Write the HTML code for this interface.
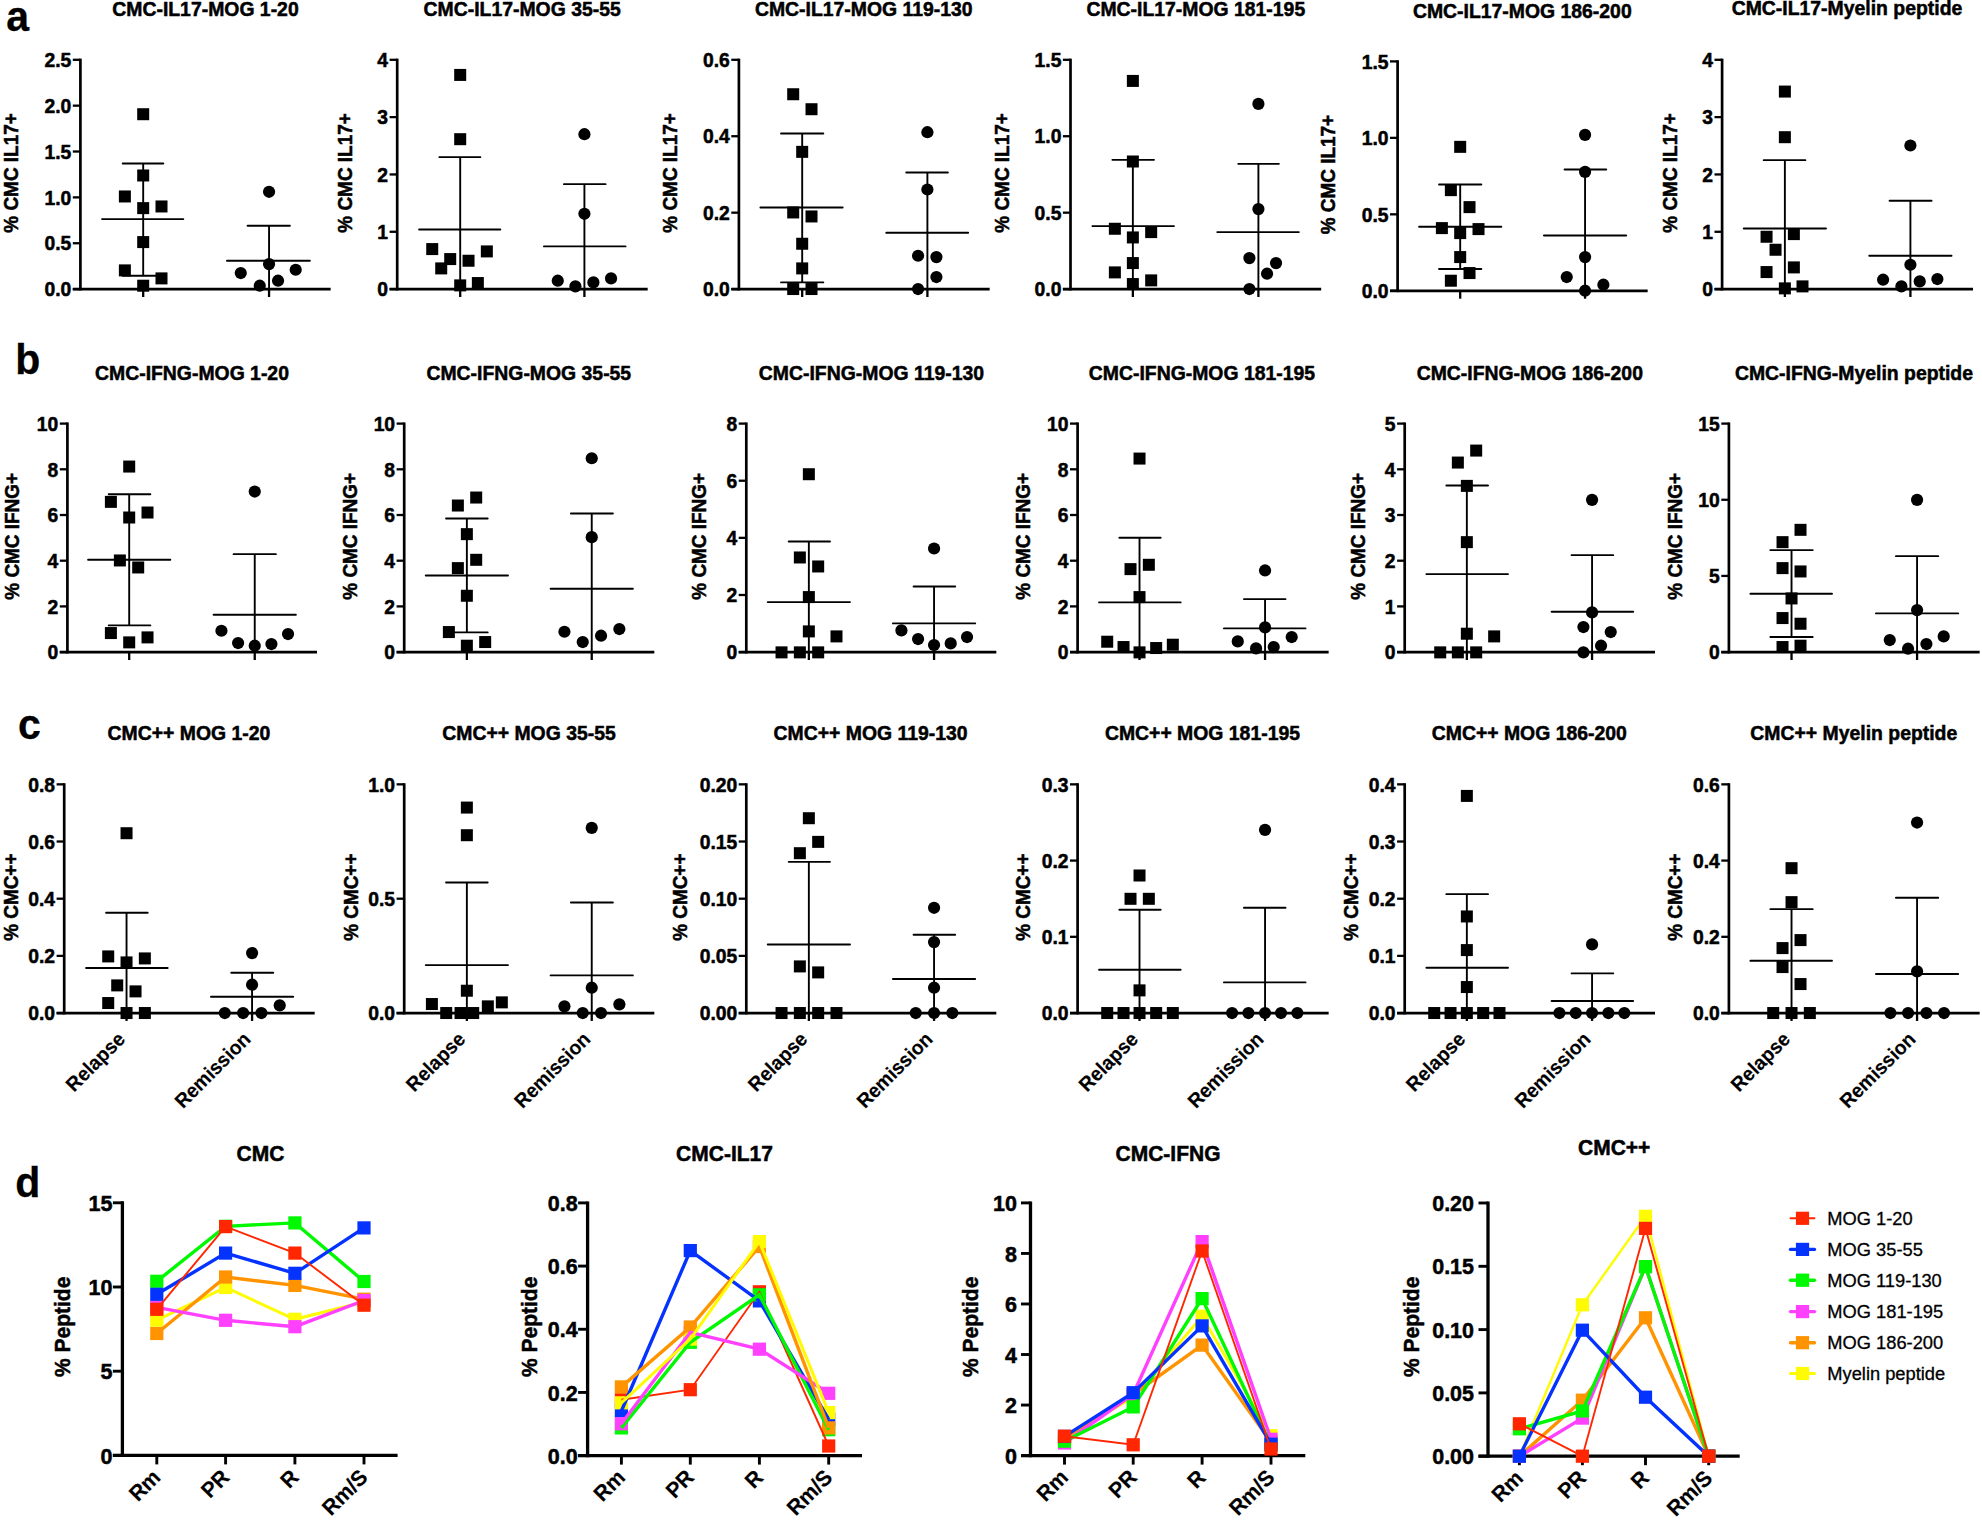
<!DOCTYPE html>
<html lang="en"><head><meta charset="utf-8"><title>Figure</title>
<style>html,body{margin:0;padding:0;background:#fff}svg{display:block}text{font-family:"Liberation Sans", sans-serif}</style>
</head><body>
<svg width="1982" height="1520" viewBox="0 0 1982 1520" font-family='"Liberation Sans", sans-serif'>
<rect width="1982" height="1520" fill="#fff"/>
<text transform="translate(205.46 16.05) scale(1 1.035)" font-size="19.4" font-weight="bold" text-anchor="middle" fill="#000" stroke="#000" stroke-width="0.5">CMC-IL17-MOG 1-20</text>
<text transform="translate(18.31 172.95) rotate(-90) scale(1 1.035)" font-size="18.95" font-weight="bold" text-anchor="middle" fill="#000" stroke="#000" stroke-width="0.5">% CMC IL17+</text>
<line x1="72.8" y1="59.8" x2="80.4" y2="59.8" stroke="#000" stroke-width="2.3" stroke-linecap="butt"/>
<text transform="translate(71.3 67) scale(1 1.035)" font-size="19.3" font-weight="bold" text-anchor="end" fill="#000" stroke="#000" stroke-width="0.5">2.5</text>
<line x1="72.8" y1="105.66" x2="80.4" y2="105.66" stroke="#000" stroke-width="2.3" stroke-linecap="butt"/>
<text transform="translate(71.3 112.86) scale(1 1.035)" font-size="19.3" font-weight="bold" text-anchor="end" fill="#000" stroke="#000" stroke-width="0.5">2.0</text>
<line x1="72.8" y1="151.52" x2="80.4" y2="151.52" stroke="#000" stroke-width="2.3" stroke-linecap="butt"/>
<text transform="translate(71.3 158.72) scale(1 1.035)" font-size="19.3" font-weight="bold" text-anchor="end" fill="#000" stroke="#000" stroke-width="0.5">1.5</text>
<line x1="72.8" y1="197.38" x2="80.4" y2="197.38" stroke="#000" stroke-width="2.3" stroke-linecap="butt"/>
<text transform="translate(71.3 204.58) scale(1 1.035)" font-size="19.3" font-weight="bold" text-anchor="end" fill="#000" stroke="#000" stroke-width="0.5">1.0</text>
<line x1="72.8" y1="243.24" x2="80.4" y2="243.24" stroke="#000" stroke-width="2.3" stroke-linecap="butt"/>
<text transform="translate(71.3 250.44) scale(1 1.035)" font-size="19.3" font-weight="bold" text-anchor="end" fill="#000" stroke="#000" stroke-width="0.5">0.5</text>
<line x1="72.8" y1="289.1" x2="80.4" y2="289.1" stroke="#000" stroke-width="2.3" stroke-linecap="butt"/>
<text transform="translate(71.3 296.3) scale(1 1.035)" font-size="19.3" font-weight="bold" text-anchor="end" fill="#000" stroke="#000" stroke-width="0.5">0.0</text>
<line x1="80.4" y1="58.65" x2="80.4" y2="290.45" stroke="#000" stroke-width="2.7" stroke-linecap="butt"/>
<line x1="72.8" y1="289.1" x2="330.67" y2="289.1" stroke="#000" stroke-width="2.7" stroke-linecap="butt"/>
<line x1="143.19" y1="289.1" x2="143.19" y2="297" stroke="#000" stroke-width="2.3" stroke-linecap="butt"/>
<line x1="269.06" y1="289.1" x2="269.06" y2="297" stroke="#000" stroke-width="2.3" stroke-linecap="butt"/>
<line x1="102.06" y1="219.11" x2="183.31" y2="219.11" stroke="#000" stroke-width="1.9" stroke-linecap="round"/>
<line x1="122.71" y1="163.5" x2="163.33" y2="163.5" stroke="#000" stroke-width="1.9" stroke-linecap="round"/>
<line x1="122.71" y1="275.72" x2="163.33" y2="275.72" stroke="#000" stroke-width="1.9" stroke-linecap="round"/>
<line x1="143.19" y1="163.5" x2="143.19" y2="275.72" stroke="#000" stroke-width="1.9" stroke-linecap="butt"/>
<line x1="226.94" y1="260.74" x2="309.85" y2="260.74" stroke="#000" stroke-width="1.9" stroke-linecap="round"/>
<line x1="247.58" y1="225.77" x2="289.87" y2="225.77" stroke="#000" stroke-width="1.9" stroke-linecap="round"/>
<line x1="269.06" y1="225.77" x2="269.06" y2="289.1" stroke="#000" stroke-width="1.9" stroke-linecap="butt"/>
<rect x="137.19" y="108.22" width="12" height="12" fill="#000"/>
<rect x="137.19" y="169.49" width="12" height="12" fill="#000"/>
<rect x="118.87" y="190.47" width="12" height="12" fill="#000"/>
<rect x="137.19" y="202.12" width="12" height="12" fill="#000"/>
<rect x="155.5" y="200.46" width="12" height="12" fill="#000"/>
<rect x="137.19" y="236.09" width="12" height="12" fill="#000"/>
<rect x="118.87" y="264.39" width="12" height="12" fill="#000"/>
<rect x="155.5" y="272.39" width="12" height="12" fill="#000"/>
<rect x="137.19" y="279.71" width="12" height="12" fill="#000"/>
<circle cx="269.06" cy="191.81" r="6.1" fill="#000"/>
<circle cx="269.06" cy="264.07" r="6.1" fill="#000"/>
<circle cx="240.76" cy="273.06" r="6.1" fill="#000"/>
<circle cx="295.7" cy="269.73" r="6.1" fill="#000"/>
<circle cx="278.05" cy="280.72" r="6.1" fill="#000"/>
<circle cx="259.74" cy="285.71" r="6.1" fill="#000"/>
<text transform="translate(522.14 16.05) scale(1 1.035)" font-size="19.4" font-weight="bold" text-anchor="middle" fill="#000" stroke="#000" stroke-width="0.5">CMC-IL17-MOG 35-55</text>
<text transform="translate(352.31 172.95) rotate(-90) scale(1 1.035)" font-size="18.95" font-weight="bold" text-anchor="middle" fill="#000" stroke="#000" stroke-width="0.5">% CMC IL17+</text>
<line x1="389.6" y1="59.8" x2="397.2" y2="59.8" stroke="#000" stroke-width="2.3" stroke-linecap="butt"/>
<text transform="translate(388.1 67) scale(1 1.035)" font-size="19.3" font-weight="bold" text-anchor="end" fill="#000" stroke="#000" stroke-width="0.5">4</text>
<line x1="389.6" y1="117.12" x2="397.2" y2="117.12" stroke="#000" stroke-width="2.3" stroke-linecap="butt"/>
<text transform="translate(388.1 124.33) scale(1 1.035)" font-size="19.3" font-weight="bold" text-anchor="end" fill="#000" stroke="#000" stroke-width="0.5">3</text>
<line x1="389.6" y1="174.45" x2="397.2" y2="174.45" stroke="#000" stroke-width="2.3" stroke-linecap="butt"/>
<text transform="translate(388.1 181.65) scale(1 1.035)" font-size="19.3" font-weight="bold" text-anchor="end" fill="#000" stroke="#000" stroke-width="0.5">2</text>
<line x1="389.6" y1="231.78" x2="397.2" y2="231.78" stroke="#000" stroke-width="2.3" stroke-linecap="butt"/>
<text transform="translate(388.1 238.98) scale(1 1.035)" font-size="19.3" font-weight="bold" text-anchor="end" fill="#000" stroke="#000" stroke-width="0.5">1</text>
<line x1="389.6" y1="289.1" x2="397.2" y2="289.1" stroke="#000" stroke-width="2.3" stroke-linecap="butt"/>
<text transform="translate(388.1 296.3) scale(1 1.035)" font-size="19.3" font-weight="bold" text-anchor="end" fill="#000" stroke="#000" stroke-width="0.5">0</text>
<line x1="397.2" y1="58.65" x2="397.2" y2="290.45" stroke="#000" stroke-width="2.7" stroke-linecap="butt"/>
<line x1="389.6" y1="289.1" x2="647.68" y2="289.1" stroke="#000" stroke-width="2.7" stroke-linecap="butt"/>
<line x1="460.2" y1="289.1" x2="460.2" y2="297" stroke="#000" stroke-width="2.3" stroke-linecap="butt"/>
<line x1="584.41" y1="289.1" x2="584.41" y2="297" stroke="#000" stroke-width="2.3" stroke-linecap="butt"/>
<line x1="419.08" y1="229.43" x2="500.33" y2="229.43" stroke="#000" stroke-width="1.9" stroke-linecap="round"/>
<line x1="439.39" y1="157.17" x2="480.35" y2="157.17" stroke="#000" stroke-width="1.9" stroke-linecap="round"/>
<line x1="460.2" y1="157.17" x2="460.2" y2="289.1" stroke="#000" stroke-width="1.9" stroke-linecap="butt"/>
<line x1="543.95" y1="246.42" x2="625.53" y2="246.42" stroke="#000" stroke-width="1.9" stroke-linecap="round"/>
<line x1="563.93" y1="184.15" x2="605.55" y2="184.15" stroke="#000" stroke-width="1.9" stroke-linecap="round"/>
<line x1="584.41" y1="184.15" x2="584.41" y2="289.1" stroke="#000" stroke-width="1.9" stroke-linecap="butt"/>
<rect x="454.2" y="68.92" width="12" height="12" fill="#000"/>
<rect x="454.2" y="133.19" width="12" height="12" fill="#000"/>
<rect x="426.23" y="243.08" width="12" height="12" fill="#000"/>
<rect x="480.84" y="245.41" width="12" height="12" fill="#000"/>
<rect x="444.21" y="253.07" width="12" height="12" fill="#000"/>
<rect x="462.53" y="254.74" width="12" height="12" fill="#000"/>
<rect x="435.22" y="262.4" width="12" height="12" fill="#000"/>
<rect x="471.85" y="277.05" width="12" height="12" fill="#000"/>
<rect x="454.2" y="279.38" width="12" height="12" fill="#000"/>
<circle cx="584.41" cy="134.2" r="6.1" fill="#000"/>
<circle cx="584.41" cy="213.78" r="6.1" fill="#000"/>
<circle cx="557.77" cy="280.72" r="6.1" fill="#000"/>
<circle cx="611.05" cy="278.39" r="6.1" fill="#000"/>
<circle cx="593.4" cy="282.38" r="6.1" fill="#000"/>
<circle cx="575.42" cy="286.38" r="6.1" fill="#000"/>
<text transform="translate(863.79 16.05) scale(1 1.035)" font-size="19.4" font-weight="bold" text-anchor="middle" fill="#000" stroke="#000" stroke-width="0.5">CMC-IL17-MOG 119-130</text>
<text transform="translate(676.65 172.95) rotate(-90) scale(1 1.035)" font-size="18.95" font-weight="bold" text-anchor="middle" fill="#000" stroke="#000" stroke-width="0.5">% CMC IL17+</text>
<line x1="731.3" y1="59.8" x2="738.9" y2="59.8" stroke="#000" stroke-width="2.3" stroke-linecap="butt"/>
<text transform="translate(729.8 67) scale(1 1.035)" font-size="19.3" font-weight="bold" text-anchor="end" fill="#000" stroke="#000" stroke-width="0.5">0.6</text>
<line x1="731.3" y1="136.23" x2="738.9" y2="136.23" stroke="#000" stroke-width="2.3" stroke-linecap="butt"/>
<text transform="translate(729.8 143.43) scale(1 1.035)" font-size="19.3" font-weight="bold" text-anchor="end" fill="#000" stroke="#000" stroke-width="0.5">0.4</text>
<line x1="731.3" y1="212.67" x2="738.9" y2="212.67" stroke="#000" stroke-width="2.3" stroke-linecap="butt"/>
<text transform="translate(729.8 219.87) scale(1 1.035)" font-size="19.3" font-weight="bold" text-anchor="end" fill="#000" stroke="#000" stroke-width="0.5">0.2</text>
<line x1="731.3" y1="289.1" x2="738.9" y2="289.1" stroke="#000" stroke-width="2.3" stroke-linecap="butt"/>
<text transform="translate(729.8 296.3) scale(1 1.035)" font-size="19.3" font-weight="bold" text-anchor="end" fill="#000" stroke="#000" stroke-width="0.5">0.0</text>
<line x1="738.9" y1="58.65" x2="738.9" y2="290.45" stroke="#000" stroke-width="2.7" stroke-linecap="butt"/>
<line x1="731.3" y1="289.1" x2="989.67" y2="289.1" stroke="#000" stroke-width="2.7" stroke-linecap="butt"/>
<line x1="802.19" y1="289.1" x2="802.19" y2="297" stroke="#000" stroke-width="2.3" stroke-linecap="butt"/>
<line x1="927.4" y1="289.1" x2="927.4" y2="297" stroke="#000" stroke-width="2.3" stroke-linecap="butt"/>
<line x1="760.4" y1="207.46" x2="842.65" y2="207.46" stroke="#000" stroke-width="1.9" stroke-linecap="round"/>
<line x1="781.04" y1="133.53" x2="823.33" y2="133.53" stroke="#000" stroke-width="1.9" stroke-linecap="round"/>
<line x1="781.04" y1="282.38" x2="823.33" y2="282.38" stroke="#000" stroke-width="1.9" stroke-linecap="round"/>
<line x1="802.19" y1="133.53" x2="802.19" y2="282.38" stroke="#000" stroke-width="1.9" stroke-linecap="butt"/>
<line x1="886.27" y1="232.76" x2="968.19" y2="232.76" stroke="#000" stroke-width="1.9" stroke-linecap="round"/>
<line x1="906.25" y1="172.49" x2="947.88" y2="172.49" stroke="#000" stroke-width="1.9" stroke-linecap="round"/>
<line x1="927.4" y1="172.49" x2="927.4" y2="289.1" stroke="#000" stroke-width="1.9" stroke-linecap="butt"/>
<rect x="787.2" y="88.24" width="12" height="12" fill="#000"/>
<rect x="805.51" y="103.22" width="12" height="12" fill="#000"/>
<rect x="796.19" y="145.85" width="12" height="12" fill="#000"/>
<rect x="787.2" y="206.45" width="12" height="12" fill="#000"/>
<rect x="805.51" y="210.45" width="12" height="12" fill="#000"/>
<rect x="796.19" y="237.75" width="12" height="12" fill="#000"/>
<rect x="796.19" y="262.4" width="12" height="12" fill="#000"/>
<rect x="787.2" y="283.04" width="12" height="12" fill="#000"/>
<rect x="805.51" y="283.04" width="12" height="12" fill="#000"/>
<circle cx="927.4" cy="132.2" r="6.1" fill="#000"/>
<circle cx="927.4" cy="189.48" r="6.1" fill="#000"/>
<circle cx="918.07" cy="255.74" r="6.1" fill="#000"/>
<circle cx="936.39" cy="257.07" r="6.1" fill="#000"/>
<circle cx="936.39" cy="277.05" r="6.1" fill="#000"/>
<circle cx="918.07" cy="289.04" r="6.1" fill="#000"/>
<text transform="translate(1195.79 16.05) scale(1 1.035)" font-size="19.4" font-weight="bold" text-anchor="middle" fill="#000" stroke="#000" stroke-width="0.5">CMC-IL17-MOG 181-195</text>
<text transform="translate(1008.65 172.95) rotate(-90) scale(1 1.035)" font-size="18.95" font-weight="bold" text-anchor="middle" fill="#000" stroke="#000" stroke-width="0.5">% CMC IL17+</text>
<line x1="1062.9" y1="59.8" x2="1070.5" y2="59.8" stroke="#000" stroke-width="2.3" stroke-linecap="butt"/>
<text transform="translate(1061.4 67) scale(1 1.035)" font-size="19.3" font-weight="bold" text-anchor="end" fill="#000" stroke="#000" stroke-width="0.5">1.5</text>
<line x1="1062.9" y1="136.23" x2="1070.5" y2="136.23" stroke="#000" stroke-width="2.3" stroke-linecap="butt"/>
<text transform="translate(1061.4 143.43) scale(1 1.035)" font-size="19.3" font-weight="bold" text-anchor="end" fill="#000" stroke="#000" stroke-width="0.5">1.0</text>
<line x1="1062.9" y1="212.67" x2="1070.5" y2="212.67" stroke="#000" stroke-width="2.3" stroke-linecap="butt"/>
<text transform="translate(1061.4 219.87) scale(1 1.035)" font-size="19.3" font-weight="bold" text-anchor="end" fill="#000" stroke="#000" stroke-width="0.5">0.5</text>
<line x1="1062.9" y1="289.1" x2="1070.5" y2="289.1" stroke="#000" stroke-width="2.3" stroke-linecap="butt"/>
<text transform="translate(1061.4 296.3) scale(1 1.035)" font-size="19.3" font-weight="bold" text-anchor="end" fill="#000" stroke="#000" stroke-width="0.5">0.0</text>
<line x1="1070.5" y1="58.65" x2="1070.5" y2="290.45" stroke="#000" stroke-width="2.7" stroke-linecap="butt"/>
<line x1="1062.9" y1="289.1" x2="1321.17" y2="289.1" stroke="#000" stroke-width="2.7" stroke-linecap="butt"/>
<line x1="1132.86" y1="289.1" x2="1132.86" y2="297" stroke="#000" stroke-width="2.3" stroke-linecap="butt"/>
<line x1="1258.4" y1="289.1" x2="1258.4" y2="297" stroke="#000" stroke-width="2.3" stroke-linecap="butt"/>
<line x1="1092.4" y1="226.1" x2="1173.98" y2="226.1" stroke="#000" stroke-width="1.9" stroke-linecap="round"/>
<line x1="1112.38" y1="159.84" x2="1154" y2="159.84" stroke="#000" stroke-width="1.9" stroke-linecap="round"/>
<line x1="1132.86" y1="159.84" x2="1132.86" y2="289.1" stroke="#000" stroke-width="1.9" stroke-linecap="butt"/>
<line x1="1217.27" y1="232.1" x2="1298.85" y2="232.1" stroke="#000" stroke-width="1.9" stroke-linecap="round"/>
<line x1="1238.25" y1="163.83" x2="1278.87" y2="163.83" stroke="#000" stroke-width="1.9" stroke-linecap="round"/>
<line x1="1258.4" y1="163.83" x2="1258.4" y2="289.1" stroke="#000" stroke-width="1.9" stroke-linecap="butt"/>
<rect x="1126.86" y="74.92" width="12" height="12" fill="#000"/>
<rect x="1126.86" y="155.5" width="12" height="12" fill="#000"/>
<rect x="1108.87" y="222.77" width="12" height="12" fill="#000"/>
<rect x="1145.17" y="226.1" width="12" height="12" fill="#000"/>
<rect x="1126.86" y="231.43" width="12" height="12" fill="#000"/>
<rect x="1126.86" y="257.07" width="12" height="12" fill="#000"/>
<rect x="1108.87" y="266.39" width="12" height="12" fill="#000"/>
<rect x="1145.17" y="274.38" width="12" height="12" fill="#000"/>
<rect x="1126.86" y="278.05" width="12" height="12" fill="#000"/>
<circle cx="1258.4" cy="103.9" r="6.1" fill="#000"/>
<circle cx="1258.4" cy="209.12" r="6.1" fill="#000"/>
<circle cx="1249.4" cy="258.07" r="6.1" fill="#000"/>
<circle cx="1276.04" cy="263.07" r="6.1" fill="#000"/>
<circle cx="1267.05" cy="273.72" r="6.1" fill="#000"/>
<circle cx="1249.4" cy="289.04" r="6.1" fill="#000"/>
<text transform="translate(1522.3 18.05) scale(1 1.035)" font-size="19.4" font-weight="bold" text-anchor="middle" fill="#000" stroke="#000" stroke-width="0.5">CMC-IL17-MOG 186-200</text>
<text transform="translate(1335.32 174.6) rotate(-90) scale(1 1.035)" font-size="18.95" font-weight="bold" text-anchor="middle" fill="#000" stroke="#000" stroke-width="0.5">% CMC IL17+</text>
<line x1="1390" y1="61.4" x2="1397.6" y2="61.4" stroke="#000" stroke-width="2.3" stroke-linecap="butt"/>
<text transform="translate(1388.5 68.6) scale(1 1.035)" font-size="19.3" font-weight="bold" text-anchor="end" fill="#000" stroke="#000" stroke-width="0.5">1.5</text>
<line x1="1390" y1="137.87" x2="1397.6" y2="137.87" stroke="#000" stroke-width="2.3" stroke-linecap="butt"/>
<text transform="translate(1388.5 145.07) scale(1 1.035)" font-size="19.3" font-weight="bold" text-anchor="end" fill="#000" stroke="#000" stroke-width="0.5">1.0</text>
<line x1="1390" y1="214.33" x2="1397.6" y2="214.33" stroke="#000" stroke-width="2.3" stroke-linecap="butt"/>
<text transform="translate(1388.5 221.53) scale(1 1.035)" font-size="19.3" font-weight="bold" text-anchor="end" fill="#000" stroke="#000" stroke-width="0.5">0.5</text>
<line x1="1390" y1="290.8" x2="1397.6" y2="290.8" stroke="#000" stroke-width="2.3" stroke-linecap="butt"/>
<text transform="translate(1388.5 298) scale(1 1.035)" font-size="19.3" font-weight="bold" text-anchor="end" fill="#000" stroke="#000" stroke-width="0.5">0.0</text>
<line x1="1397.6" y1="60.25" x2="1397.6" y2="292.15" stroke="#000" stroke-width="2.7" stroke-linecap="butt"/>
<line x1="1390" y1="290.8" x2="1647.67" y2="290.8" stroke="#000" stroke-width="2.7" stroke-linecap="butt"/>
<line x1="1460.19" y1="290.8" x2="1460.19" y2="298.7" stroke="#000" stroke-width="2.3" stroke-linecap="butt"/>
<line x1="1585.07" y1="290.8" x2="1585.07" y2="298.7" stroke="#000" stroke-width="2.3" stroke-linecap="butt"/>
<line x1="1419.07" y1="226.77" x2="1501.32" y2="226.77" stroke="#000" stroke-width="1.9" stroke-linecap="round"/>
<line x1="1439.05" y1="184.48" x2="1481.34" y2="184.48" stroke="#000" stroke-width="1.9" stroke-linecap="round"/>
<line x1="1439.05" y1="269.06" x2="1481.34" y2="269.06" stroke="#000" stroke-width="1.9" stroke-linecap="round"/>
<line x1="1460.19" y1="184.48" x2="1460.19" y2="269.06" stroke="#000" stroke-width="1.9" stroke-linecap="butt"/>
<line x1="1543.94" y1="235.43" x2="1626.19" y2="235.43" stroke="#000" stroke-width="1.9" stroke-linecap="round"/>
<line x1="1564.59" y1="169.5" x2="1606.21" y2="169.5" stroke="#000" stroke-width="1.9" stroke-linecap="round"/>
<line x1="1585.07" y1="169.5" x2="1585.07" y2="290.8" stroke="#000" stroke-width="1.9" stroke-linecap="butt"/>
<rect x="1454.19" y="140.85" width="12" height="12" fill="#000"/>
<rect x="1444.87" y="184.14" width="12" height="12" fill="#000"/>
<rect x="1463.52" y="201.12" width="12" height="12" fill="#000"/>
<rect x="1435.88" y="222.1" width="12" height="12" fill="#000"/>
<rect x="1472.51" y="223.1" width="12" height="12" fill="#000"/>
<rect x="1454.19" y="227.1" width="12" height="12" fill="#000"/>
<rect x="1454.19" y="251.07" width="12" height="12" fill="#000"/>
<rect x="1463.52" y="267.06" width="12" height="12" fill="#000"/>
<rect x="1444.87" y="274.72" width="12" height="12" fill="#000"/>
<circle cx="1585.07" cy="134.86" r="6.1" fill="#000"/>
<circle cx="1585.07" cy="171.83" r="6.1" fill="#000"/>
<circle cx="1585.07" cy="257.07" r="6.1" fill="#000"/>
<circle cx="1566.75" cy="277.05" r="6.1" fill="#000"/>
<circle cx="1603.38" cy="284.71" r="6.1" fill="#000"/>
<circle cx="1585.07" cy="290.71" r="6.1" fill="#000"/>
<text transform="translate(1846.97 15.38) scale(1 1.035)" font-size="19.4" font-weight="bold" text-anchor="middle" fill="#000" stroke="#000" stroke-width="0.5">CMC-IL17-Myelin peptide</text>
<text transform="translate(1676.64 172.95) rotate(-90) scale(1 1.035)" font-size="18.95" font-weight="bold" text-anchor="middle" fill="#000" stroke="#000" stroke-width="0.5">% CMC IL17+</text>
<line x1="1714.5" y1="59.8" x2="1722.1" y2="59.8" stroke="#000" stroke-width="2.3" stroke-linecap="butt"/>
<text transform="translate(1713 67) scale(1 1.035)" font-size="19.3" font-weight="bold" text-anchor="end" fill="#000" stroke="#000" stroke-width="0.5">4</text>
<line x1="1714.5" y1="117.12" x2="1722.1" y2="117.12" stroke="#000" stroke-width="2.3" stroke-linecap="butt"/>
<text transform="translate(1713 124.33) scale(1 1.035)" font-size="19.3" font-weight="bold" text-anchor="end" fill="#000" stroke="#000" stroke-width="0.5">3</text>
<line x1="1714.5" y1="174.45" x2="1722.1" y2="174.45" stroke="#000" stroke-width="2.3" stroke-linecap="butt"/>
<text transform="translate(1713 181.65) scale(1 1.035)" font-size="19.3" font-weight="bold" text-anchor="end" fill="#000" stroke="#000" stroke-width="0.5">2</text>
<line x1="1714.5" y1="231.78" x2="1722.1" y2="231.78" stroke="#000" stroke-width="2.3" stroke-linecap="butt"/>
<text transform="translate(1713 238.98) scale(1 1.035)" font-size="19.3" font-weight="bold" text-anchor="end" fill="#000" stroke="#000" stroke-width="0.5">1</text>
<line x1="1714.5" y1="289.1" x2="1722.1" y2="289.1" stroke="#000" stroke-width="2.3" stroke-linecap="butt"/>
<text transform="translate(1713 296.3) scale(1 1.035)" font-size="19.3" font-weight="bold" text-anchor="end" fill="#000" stroke="#000" stroke-width="0.5">0</text>
<line x1="1722.1" y1="58.65" x2="1722.1" y2="290.45" stroke="#000" stroke-width="2.7" stroke-linecap="butt"/>
<line x1="1714.5" y1="289.1" x2="1973.01" y2="289.1" stroke="#000" stroke-width="2.7" stroke-linecap="butt"/>
<line x1="1784.87" y1="289.1" x2="1784.87" y2="297" stroke="#000" stroke-width="2.3" stroke-linecap="butt"/>
<line x1="1910.41" y1="289.1" x2="1910.41" y2="297" stroke="#000" stroke-width="2.3" stroke-linecap="butt"/>
<line x1="1743.74" y1="228.44" x2="1825.99" y2="228.44" stroke="#000" stroke-width="1.9" stroke-linecap="round"/>
<line x1="1763.72" y1="160.17" x2="1805.34" y2="160.17" stroke="#000" stroke-width="1.9" stroke-linecap="round"/>
<line x1="1784.87" y1="160.17" x2="1784.87" y2="289.1" stroke="#000" stroke-width="1.9" stroke-linecap="butt"/>
<line x1="1869.28" y1="255.74" x2="1951.53" y2="255.74" stroke="#000" stroke-width="1.9" stroke-linecap="round"/>
<line x1="1889.59" y1="200.8" x2="1931.55" y2="200.8" stroke="#000" stroke-width="1.9" stroke-linecap="round"/>
<line x1="1910.41" y1="200.8" x2="1910.41" y2="289.1" stroke="#000" stroke-width="1.9" stroke-linecap="butt"/>
<rect x="1778.87" y="85.57" width="12" height="12" fill="#000"/>
<rect x="1778.87" y="131.19" width="12" height="12" fill="#000"/>
<rect x="1760.55" y="230.76" width="12" height="12" fill="#000"/>
<rect x="1787.86" y="228.1" width="12" height="12" fill="#000"/>
<rect x="1769.54" y="243.75" width="12" height="12" fill="#000"/>
<rect x="1787.86" y="261.4" width="12" height="12" fill="#000"/>
<rect x="1760.55" y="266.06" width="12" height="12" fill="#000"/>
<rect x="1778.87" y="282.38" width="12" height="12" fill="#000"/>
<rect x="1796.51" y="280.38" width="12" height="12" fill="#000"/>
<circle cx="1910.41" cy="145.52" r="6.1" fill="#000"/>
<circle cx="1910.41" cy="264.73" r="6.1" fill="#000"/>
<circle cx="1883.1" cy="279.72" r="6.1" fill="#000"/>
<circle cx="1937.38" cy="279.05" r="6.1" fill="#000"/>
<circle cx="1919.73" cy="281.38" r="6.1" fill="#000"/>
<circle cx="1901.41" cy="286.38" r="6.1" fill="#000"/>
<text transform="translate(191.97 380.38) scale(1 1.035)" font-size="19.4" font-weight="bold" text-anchor="middle" fill="#000" stroke="#000" stroke-width="0.5">CMC-IFNG-MOG 1-20</text>
<text transform="translate(19.31 536.35) rotate(-90) scale(1 1.035)" font-size="18.95" font-weight="bold" text-anchor="middle" fill="#000" stroke="#000" stroke-width="0.5">% CMC IFNG+</text>
<line x1="59.8" y1="423.6" x2="67.4" y2="423.6" stroke="#000" stroke-width="2.3" stroke-linecap="butt"/>
<text transform="translate(58.3 430.8) scale(1 1.035)" font-size="19.3" font-weight="bold" text-anchor="end" fill="#000" stroke="#000" stroke-width="0.5">10</text>
<line x1="59.8" y1="469.3" x2="67.4" y2="469.3" stroke="#000" stroke-width="2.3" stroke-linecap="butt"/>
<text transform="translate(58.3 476.5) scale(1 1.035)" font-size="19.3" font-weight="bold" text-anchor="end" fill="#000" stroke="#000" stroke-width="0.5">8</text>
<line x1="59.8" y1="515" x2="67.4" y2="515" stroke="#000" stroke-width="2.3" stroke-linecap="butt"/>
<text transform="translate(58.3 522.2) scale(1 1.035)" font-size="19.3" font-weight="bold" text-anchor="end" fill="#000" stroke="#000" stroke-width="0.5">6</text>
<line x1="59.8" y1="560.7" x2="67.4" y2="560.7" stroke="#000" stroke-width="2.3" stroke-linecap="butt"/>
<text transform="translate(58.3 567.9) scale(1 1.035)" font-size="19.3" font-weight="bold" text-anchor="end" fill="#000" stroke="#000" stroke-width="0.5">4</text>
<line x1="59.8" y1="606.4" x2="67.4" y2="606.4" stroke="#000" stroke-width="2.3" stroke-linecap="butt"/>
<text transform="translate(58.3 613.6) scale(1 1.035)" font-size="19.3" font-weight="bold" text-anchor="end" fill="#000" stroke="#000" stroke-width="0.5">2</text>
<line x1="59.8" y1="652.1" x2="67.4" y2="652.1" stroke="#000" stroke-width="2.3" stroke-linecap="butt"/>
<text transform="translate(58.3 659.3) scale(1 1.035)" font-size="19.3" font-weight="bold" text-anchor="end" fill="#000" stroke="#000" stroke-width="0.5">0</text>
<line x1="67.4" y1="422.45" x2="67.4" y2="653.45" stroke="#000" stroke-width="2.7" stroke-linecap="butt"/>
<line x1="59.8" y1="652.1" x2="317.01" y2="652.1" stroke="#000" stroke-width="2.7" stroke-linecap="butt"/>
<line x1="129.2" y1="652.1" x2="129.2" y2="660" stroke="#000" stroke-width="2.3" stroke-linecap="butt"/>
<line x1="254.74" y1="652.1" x2="254.74" y2="660" stroke="#000" stroke-width="2.3" stroke-linecap="butt"/>
<line x1="88.08" y1="559.8" x2="170.33" y2="559.8" stroke="#000" stroke-width="1.9" stroke-linecap="round"/>
<line x1="108.72" y1="494.2" x2="150.35" y2="494.2" stroke="#000" stroke-width="1.9" stroke-linecap="round"/>
<line x1="108.72" y1="625.4" x2="150.35" y2="625.4" stroke="#000" stroke-width="1.9" stroke-linecap="round"/>
<line x1="129.2" y1="494.2" x2="129.2" y2="625.4" stroke="#000" stroke-width="1.9" stroke-linecap="butt"/>
<line x1="213.62" y1="614.74" x2="295.87" y2="614.74" stroke="#000" stroke-width="1.9" stroke-linecap="round"/>
<line x1="233.6" y1="554.14" x2="275.89" y2="554.14" stroke="#000" stroke-width="1.9" stroke-linecap="round"/>
<line x1="254.74" y1="554.14" x2="254.74" y2="652.1" stroke="#000" stroke-width="1.9" stroke-linecap="butt"/>
<rect x="123.2" y="460.56" width="12" height="12" fill="#000"/>
<rect x="104.89" y="495.86" width="12" height="12" fill="#000"/>
<rect x="141.52" y="506.51" width="12" height="12" fill="#000"/>
<rect x="123.2" y="511.51" width="12" height="12" fill="#000"/>
<rect x="113.88" y="554.46" width="12" height="12" fill="#000"/>
<rect x="132.19" y="561.46" width="12" height="12" fill="#000"/>
<rect x="104.89" y="627.06" width="12" height="12" fill="#000"/>
<rect x="141.52" y="631.39" width="12" height="12" fill="#000"/>
<rect x="123.2" y="636.38" width="12" height="12" fill="#000"/>
<circle cx="254.74" cy="491.53" r="6.1" fill="#000"/>
<circle cx="221.44" cy="630.73" r="6.1" fill="#000"/>
<circle cx="288.04" cy="634.06" r="6.1" fill="#000"/>
<circle cx="238.09" cy="643.05" r="6.1" fill="#000"/>
<circle cx="271.39" cy="644.05" r="6.1" fill="#000"/>
<circle cx="254.74" cy="645.71" r="6.1" fill="#000"/>
<text transform="translate(528.8 380.38) scale(1 1.035)" font-size="19.4" font-weight="bold" text-anchor="middle" fill="#000" stroke="#000" stroke-width="0.5">CMC-IFNG-MOG 35-55</text>
<text transform="translate(356.97 536.35) rotate(-90) scale(1 1.035)" font-size="18.95" font-weight="bold" text-anchor="middle" fill="#000" stroke="#000" stroke-width="0.5">% CMC IFNG+</text>
<line x1="396.6" y1="423.6" x2="404.2" y2="423.6" stroke="#000" stroke-width="2.3" stroke-linecap="butt"/>
<text transform="translate(395.1 430.8) scale(1 1.035)" font-size="19.3" font-weight="bold" text-anchor="end" fill="#000" stroke="#000" stroke-width="0.5">10</text>
<line x1="396.6" y1="469.3" x2="404.2" y2="469.3" stroke="#000" stroke-width="2.3" stroke-linecap="butt"/>
<text transform="translate(395.1 476.5) scale(1 1.035)" font-size="19.3" font-weight="bold" text-anchor="end" fill="#000" stroke="#000" stroke-width="0.5">8</text>
<line x1="396.6" y1="515" x2="404.2" y2="515" stroke="#000" stroke-width="2.3" stroke-linecap="butt"/>
<text transform="translate(395.1 522.2) scale(1 1.035)" font-size="19.3" font-weight="bold" text-anchor="end" fill="#000" stroke="#000" stroke-width="0.5">6</text>
<line x1="396.6" y1="560.7" x2="404.2" y2="560.7" stroke="#000" stroke-width="2.3" stroke-linecap="butt"/>
<text transform="translate(395.1 567.9) scale(1 1.035)" font-size="19.3" font-weight="bold" text-anchor="end" fill="#000" stroke="#000" stroke-width="0.5">4</text>
<line x1="396.6" y1="606.4" x2="404.2" y2="606.4" stroke="#000" stroke-width="2.3" stroke-linecap="butt"/>
<text transform="translate(395.1 613.6) scale(1 1.035)" font-size="19.3" font-weight="bold" text-anchor="end" fill="#000" stroke="#000" stroke-width="0.5">2</text>
<line x1="396.6" y1="652.1" x2="404.2" y2="652.1" stroke="#000" stroke-width="2.3" stroke-linecap="butt"/>
<text transform="translate(395.1 659.3) scale(1 1.035)" font-size="19.3" font-weight="bold" text-anchor="end" fill="#000" stroke="#000" stroke-width="0.5">0</text>
<line x1="404.2" y1="422.45" x2="404.2" y2="653.45" stroke="#000" stroke-width="2.7" stroke-linecap="butt"/>
<line x1="396.6" y1="652.1" x2="654.34" y2="652.1" stroke="#000" stroke-width="2.7" stroke-linecap="butt"/>
<line x1="466.86" y1="652.1" x2="466.86" y2="660" stroke="#000" stroke-width="2.3" stroke-linecap="butt"/>
<line x1="591.74" y1="652.1" x2="591.74" y2="660" stroke="#000" stroke-width="2.3" stroke-linecap="butt"/>
<line x1="425.74" y1="575.45" x2="507.99" y2="575.45" stroke="#000" stroke-width="1.9" stroke-linecap="round"/>
<line x1="446.05" y1="518.51" x2="487.67" y2="518.51" stroke="#000" stroke-width="1.9" stroke-linecap="round"/>
<line x1="446.05" y1="632.39" x2="487.67" y2="632.39" stroke="#000" stroke-width="1.9" stroke-linecap="round"/>
<line x1="466.86" y1="518.51" x2="466.86" y2="632.39" stroke="#000" stroke-width="1.9" stroke-linecap="butt"/>
<line x1="550.61" y1="588.77" x2="632.86" y2="588.77" stroke="#000" stroke-width="1.9" stroke-linecap="round"/>
<line x1="570.92" y1="513.51" x2="612.88" y2="513.51" stroke="#000" stroke-width="1.9" stroke-linecap="round"/>
<line x1="591.74" y1="513.51" x2="591.74" y2="652.1" stroke="#000" stroke-width="1.9" stroke-linecap="butt"/>
<rect x="470.19" y="491.53" width="12" height="12" fill="#000"/>
<rect x="451.87" y="499.52" width="12" height="12" fill="#000"/>
<rect x="460.86" y="528.16" width="12" height="12" fill="#000"/>
<rect x="470.19" y="553.8" width="12" height="12" fill="#000"/>
<rect x="451.87" y="562.12" width="12" height="12" fill="#000"/>
<rect x="460.86" y="589.76" width="12" height="12" fill="#000"/>
<rect x="442.88" y="626.06" width="12" height="12" fill="#000"/>
<rect x="479.18" y="636.05" width="12" height="12" fill="#000"/>
<rect x="460.86" y="639.71" width="12" height="12" fill="#000"/>
<circle cx="591.74" cy="458.23" r="6.1" fill="#000"/>
<circle cx="591.74" cy="537.15" r="6.1" fill="#000"/>
<circle cx="619.37" cy="629.06" r="6.1" fill="#000"/>
<circle cx="564.43" cy="631.73" r="6.1" fill="#000"/>
<circle cx="601.06" cy="635.72" r="6.1" fill="#000"/>
<circle cx="582.74" cy="642.05" r="6.1" fill="#000"/>
<text transform="translate(871.45 380.38) scale(1 1.035)" font-size="19.4" font-weight="bold" text-anchor="middle" fill="#000" stroke="#000" stroke-width="0.5">CMC-IFNG-MOG 119-130</text>
<text transform="translate(705.62 536.35) rotate(-90) scale(1 1.035)" font-size="18.95" font-weight="bold" text-anchor="middle" fill="#000" stroke="#000" stroke-width="0.5">% CMC IFNG+</text>
<line x1="738.7" y1="423.6" x2="746.3" y2="423.6" stroke="#000" stroke-width="2.3" stroke-linecap="butt"/>
<text transform="translate(737.2 430.8) scale(1 1.035)" font-size="19.3" font-weight="bold" text-anchor="end" fill="#000" stroke="#000" stroke-width="0.5">8</text>
<line x1="738.7" y1="480.73" x2="746.3" y2="480.73" stroke="#000" stroke-width="2.3" stroke-linecap="butt"/>
<text transform="translate(737.2 487.93) scale(1 1.035)" font-size="19.3" font-weight="bold" text-anchor="end" fill="#000" stroke="#000" stroke-width="0.5">6</text>
<line x1="738.7" y1="537.85" x2="746.3" y2="537.85" stroke="#000" stroke-width="2.3" stroke-linecap="butt"/>
<text transform="translate(737.2 545.05) scale(1 1.035)" font-size="19.3" font-weight="bold" text-anchor="end" fill="#000" stroke="#000" stroke-width="0.5">4</text>
<line x1="738.7" y1="594.98" x2="746.3" y2="594.98" stroke="#000" stroke-width="2.3" stroke-linecap="butt"/>
<text transform="translate(737.2 602.18) scale(1 1.035)" font-size="19.3" font-weight="bold" text-anchor="end" fill="#000" stroke="#000" stroke-width="0.5">2</text>
<line x1="738.7" y1="652.1" x2="746.3" y2="652.1" stroke="#000" stroke-width="2.3" stroke-linecap="butt"/>
<text transform="translate(737.2 659.3) scale(1 1.035)" font-size="19.3" font-weight="bold" text-anchor="end" fill="#000" stroke="#000" stroke-width="0.5">0</text>
<line x1="746.3" y1="422.45" x2="746.3" y2="653.45" stroke="#000" stroke-width="2.7" stroke-linecap="butt"/>
<line x1="738.7" y1="652.1" x2="996.33" y2="652.1" stroke="#000" stroke-width="2.7" stroke-linecap="butt"/>
<line x1="808.85" y1="652.1" x2="808.85" y2="660" stroke="#000" stroke-width="2.3" stroke-linecap="butt"/>
<line x1="934.06" y1="652.1" x2="934.06" y2="660" stroke="#000" stroke-width="2.3" stroke-linecap="butt"/>
<line x1="767.73" y1="602.09" x2="849.97" y2="602.09" stroke="#000" stroke-width="1.9" stroke-linecap="round"/>
<line x1="788.7" y1="541.48" x2="829.99" y2="541.48" stroke="#000" stroke-width="1.9" stroke-linecap="round"/>
<line x1="808.85" y1="541.48" x2="808.85" y2="652.1" stroke="#000" stroke-width="1.9" stroke-linecap="butt"/>
<line x1="892.93" y1="623.4" x2="975.18" y2="623.4" stroke="#000" stroke-width="1.9" stroke-linecap="round"/>
<line x1="913.58" y1="586.44" x2="955.2" y2="586.44" stroke="#000" stroke-width="1.9" stroke-linecap="round"/>
<line x1="934.06" y1="586.44" x2="934.06" y2="652.1" stroke="#000" stroke-width="1.9" stroke-linecap="butt"/>
<rect x="802.85" y="468.22" width="12" height="12" fill="#000"/>
<rect x="793.86" y="551.47" width="12" height="12" fill="#000"/>
<rect x="812.17" y="560.46" width="12" height="12" fill="#000"/>
<rect x="802.85" y="591.09" width="12" height="12" fill="#000"/>
<rect x="802.85" y="625.39" width="12" height="12" fill="#000"/>
<rect x="830.49" y="630.39" width="12" height="12" fill="#000"/>
<rect x="775.54" y="646.37" width="12" height="12" fill="#000"/>
<rect x="793.86" y="646.37" width="12" height="12" fill="#000"/>
<rect x="812.17" y="646.37" width="12" height="12" fill="#000"/>
<circle cx="934.06" cy="548.48" r="6.1" fill="#000"/>
<circle cx="901.42" cy="630.39" r="6.1" fill="#000"/>
<circle cx="967.02" cy="637.05" r="6.1" fill="#000"/>
<circle cx="918.07" cy="639.05" r="6.1" fill="#000"/>
<circle cx="950.71" cy="643.38" r="6.1" fill="#000"/>
<circle cx="934.06" cy="645.05" r="6.1" fill="#000"/>
<text transform="translate(1201.95 380.38) scale(1 1.035)" font-size="19.4" font-weight="bold" text-anchor="middle" fill="#000" stroke="#000" stroke-width="0.5">CMC-IFNG-MOG 181-195</text>
<text transform="translate(1029.63 536.35) rotate(-90) scale(1 1.035)" font-size="18.95" font-weight="bold" text-anchor="middle" fill="#000" stroke="#000" stroke-width="0.5">% CMC IFNG+</text>
<line x1="1070" y1="423.6" x2="1077.6" y2="423.6" stroke="#000" stroke-width="2.3" stroke-linecap="butt"/>
<text transform="translate(1068.5 430.8) scale(1 1.035)" font-size="19.3" font-weight="bold" text-anchor="end" fill="#000" stroke="#000" stroke-width="0.5">10</text>
<line x1="1070" y1="469.3" x2="1077.6" y2="469.3" stroke="#000" stroke-width="2.3" stroke-linecap="butt"/>
<text transform="translate(1068.5 476.5) scale(1 1.035)" font-size="19.3" font-weight="bold" text-anchor="end" fill="#000" stroke="#000" stroke-width="0.5">8</text>
<line x1="1070" y1="515" x2="1077.6" y2="515" stroke="#000" stroke-width="2.3" stroke-linecap="butt"/>
<text transform="translate(1068.5 522.2) scale(1 1.035)" font-size="19.3" font-weight="bold" text-anchor="end" fill="#000" stroke="#000" stroke-width="0.5">6</text>
<line x1="1070" y1="560.7" x2="1077.6" y2="560.7" stroke="#000" stroke-width="2.3" stroke-linecap="butt"/>
<text transform="translate(1068.5 567.9) scale(1 1.035)" font-size="19.3" font-weight="bold" text-anchor="end" fill="#000" stroke="#000" stroke-width="0.5">4</text>
<line x1="1070" y1="606.4" x2="1077.6" y2="606.4" stroke="#000" stroke-width="2.3" stroke-linecap="butt"/>
<text transform="translate(1068.5 613.6) scale(1 1.035)" font-size="19.3" font-weight="bold" text-anchor="end" fill="#000" stroke="#000" stroke-width="0.5">2</text>
<line x1="1070" y1="652.1" x2="1077.6" y2="652.1" stroke="#000" stroke-width="2.3" stroke-linecap="butt"/>
<text transform="translate(1068.5 659.3) scale(1 1.035)" font-size="19.3" font-weight="bold" text-anchor="end" fill="#000" stroke="#000" stroke-width="0.5">0</text>
<line x1="1077.6" y1="422.45" x2="1077.6" y2="653.45" stroke="#000" stroke-width="2.7" stroke-linecap="butt"/>
<line x1="1070" y1="652.1" x2="1328.66" y2="652.1" stroke="#000" stroke-width="2.7" stroke-linecap="butt"/>
<line x1="1139.52" y1="652.1" x2="1139.52" y2="660" stroke="#000" stroke-width="2.3" stroke-linecap="butt"/>
<line x1="1265.06" y1="652.1" x2="1265.06" y2="660" stroke="#000" stroke-width="2.3" stroke-linecap="butt"/>
<line x1="1099.06" y1="602.42" x2="1180.64" y2="602.42" stroke="#000" stroke-width="1.9" stroke-linecap="round"/>
<line x1="1119.37" y1="537.82" x2="1160.66" y2="537.82" stroke="#000" stroke-width="1.9" stroke-linecap="round"/>
<line x1="1139.52" y1="537.82" x2="1139.52" y2="652.1" stroke="#000" stroke-width="1.9" stroke-linecap="butt"/>
<line x1="1223.93" y1="628.4" x2="1305.51" y2="628.4" stroke="#000" stroke-width="1.9" stroke-linecap="round"/>
<line x1="1243.91" y1="599.09" x2="1285.53" y2="599.09" stroke="#000" stroke-width="1.9" stroke-linecap="round"/>
<line x1="1265.06" y1="599.09" x2="1265.06" y2="652.1" stroke="#000" stroke-width="1.9" stroke-linecap="butt"/>
<rect x="1133.52" y="452.57" width="12" height="12" fill="#000"/>
<rect x="1142.84" y="558.79" width="12" height="12" fill="#000"/>
<rect x="1124.52" y="563.12" width="12" height="12" fill="#000"/>
<rect x="1133.52" y="591.09" width="12" height="12" fill="#000"/>
<rect x="1101.21" y="635.72" width="12" height="12" fill="#000"/>
<rect x="1166.82" y="638.71" width="12" height="12" fill="#000"/>
<rect x="1117.53" y="641.04" width="12" height="12" fill="#000"/>
<rect x="1150.17" y="642.04" width="12" height="12" fill="#000"/>
<rect x="1133.52" y="646.37" width="12" height="12" fill="#000"/>
<circle cx="1265.06" cy="570.45" r="6.1" fill="#000"/>
<circle cx="1265.06" cy="627.4" r="6.1" fill="#000"/>
<circle cx="1291.7" cy="637.05" r="6.1" fill="#000"/>
<circle cx="1237.75" cy="641.38" r="6.1" fill="#000"/>
<circle cx="1273.71" cy="647.04" r="6.1" fill="#000"/>
<circle cx="1256.06" cy="648.38" r="6.1" fill="#000"/>
<text transform="translate(1529.79 380.38) scale(1 1.035)" font-size="19.4" font-weight="bold" text-anchor="middle" fill="#000" stroke="#000" stroke-width="0.5">CMC-IFNG-MOG 186-200</text>
<text transform="translate(1364.62 536.35) rotate(-90) scale(1 1.035)" font-size="18.95" font-weight="bold" text-anchor="middle" fill="#000" stroke="#000" stroke-width="0.5">% CMC IFNG+</text>
<line x1="1397.1" y1="423.6" x2="1404.7" y2="423.6" stroke="#000" stroke-width="2.3" stroke-linecap="butt"/>
<text transform="translate(1395.6 430.8) scale(1 1.035)" font-size="19.3" font-weight="bold" text-anchor="end" fill="#000" stroke="#000" stroke-width="0.5">5</text>
<line x1="1397.1" y1="469.3" x2="1404.7" y2="469.3" stroke="#000" stroke-width="2.3" stroke-linecap="butt"/>
<text transform="translate(1395.6 476.5) scale(1 1.035)" font-size="19.3" font-weight="bold" text-anchor="end" fill="#000" stroke="#000" stroke-width="0.5">4</text>
<line x1="1397.1" y1="515" x2="1404.7" y2="515" stroke="#000" stroke-width="2.3" stroke-linecap="butt"/>
<text transform="translate(1395.6 522.2) scale(1 1.035)" font-size="19.3" font-weight="bold" text-anchor="end" fill="#000" stroke="#000" stroke-width="0.5">3</text>
<line x1="1397.1" y1="560.7" x2="1404.7" y2="560.7" stroke="#000" stroke-width="2.3" stroke-linecap="butt"/>
<text transform="translate(1395.6 567.9) scale(1 1.035)" font-size="19.3" font-weight="bold" text-anchor="end" fill="#000" stroke="#000" stroke-width="0.5">2</text>
<line x1="1397.1" y1="606.4" x2="1404.7" y2="606.4" stroke="#000" stroke-width="2.3" stroke-linecap="butt"/>
<text transform="translate(1395.6 613.6) scale(1 1.035)" font-size="19.3" font-weight="bold" text-anchor="end" fill="#000" stroke="#000" stroke-width="0.5">1</text>
<line x1="1397.1" y1="652.1" x2="1404.7" y2="652.1" stroke="#000" stroke-width="2.3" stroke-linecap="butt"/>
<text transform="translate(1395.6 659.3) scale(1 1.035)" font-size="19.3" font-weight="bold" text-anchor="end" fill="#000" stroke="#000" stroke-width="0.5">0</text>
<line x1="1404.7" y1="422.45" x2="1404.7" y2="653.45" stroke="#000" stroke-width="2.7" stroke-linecap="butt"/>
<line x1="1397.1" y1="652.1" x2="1655" y2="652.1" stroke="#000" stroke-width="2.7" stroke-linecap="butt"/>
<line x1="1466.85" y1="652.1" x2="1466.85" y2="660" stroke="#000" stroke-width="2.3" stroke-linecap="butt"/>
<line x1="1592.06" y1="652.1" x2="1592.06" y2="660" stroke="#000" stroke-width="2.3" stroke-linecap="butt"/>
<line x1="1426.4" y1="574.12" x2="1507.98" y2="574.12" stroke="#000" stroke-width="1.9" stroke-linecap="round"/>
<line x1="1446.37" y1="485.54" x2="1488" y2="485.54" stroke="#000" stroke-width="1.9" stroke-linecap="round"/>
<line x1="1466.85" y1="485.54" x2="1466.85" y2="652.1" stroke="#000" stroke-width="1.9" stroke-linecap="butt"/>
<line x1="1551.6" y1="611.75" x2="1633.19" y2="611.75" stroke="#000" stroke-width="1.9" stroke-linecap="round"/>
<line x1="1571.58" y1="555.14" x2="1613.21" y2="555.14" stroke="#000" stroke-width="1.9" stroke-linecap="round"/>
<line x1="1592.06" y1="555.14" x2="1592.06" y2="652.1" stroke="#000" stroke-width="1.9" stroke-linecap="butt"/>
<rect x="1470.18" y="444.58" width="12" height="12" fill="#000"/>
<rect x="1451.86" y="456.56" width="12" height="12" fill="#000"/>
<rect x="1460.85" y="479.87" width="12" height="12" fill="#000"/>
<rect x="1460.85" y="536.15" width="12" height="12" fill="#000"/>
<rect x="1460.85" y="627.72" width="12" height="12" fill="#000"/>
<rect x="1488.16" y="630.39" width="12" height="12" fill="#000"/>
<rect x="1434.21" y="646.37" width="12" height="12" fill="#000"/>
<rect x="1451.86" y="646.37" width="12" height="12" fill="#000"/>
<rect x="1470.18" y="646.37" width="12" height="12" fill="#000"/>
<circle cx="1592.06" cy="499.86" r="6.1" fill="#000"/>
<circle cx="1592.06" cy="612.41" r="6.1" fill="#000"/>
<circle cx="1583.4" cy="627.06" r="6.1" fill="#000"/>
<circle cx="1610.71" cy="632.06" r="6.1" fill="#000"/>
<circle cx="1601.05" cy="645.71" r="6.1" fill="#000"/>
<circle cx="1583.4" cy="652.37" r="6.1" fill="#000"/>
<text transform="translate(1853.96 380.38) scale(1 1.035)" font-size="19.4" font-weight="bold" text-anchor="middle" fill="#000" stroke="#000" stroke-width="0.5">CMC-IFNG-Myelin peptide</text>
<text transform="translate(1681.64 536.35) rotate(-90) scale(1 1.035)" font-size="18.95" font-weight="bold" text-anchor="middle" fill="#000" stroke="#000" stroke-width="0.5">% CMC IFNG+</text>
<line x1="1721.3" y1="423.6" x2="1728.9" y2="423.6" stroke="#000" stroke-width="2.3" stroke-linecap="butt"/>
<text transform="translate(1719.8 430.8) scale(1 1.035)" font-size="19.3" font-weight="bold" text-anchor="end" fill="#000" stroke="#000" stroke-width="0.5">15</text>
<line x1="1721.3" y1="499.77" x2="1728.9" y2="499.77" stroke="#000" stroke-width="2.3" stroke-linecap="butt"/>
<text transform="translate(1719.8 506.97) scale(1 1.035)" font-size="19.3" font-weight="bold" text-anchor="end" fill="#000" stroke="#000" stroke-width="0.5">10</text>
<line x1="1721.3" y1="575.93" x2="1728.9" y2="575.93" stroke="#000" stroke-width="2.3" stroke-linecap="butt"/>
<text transform="translate(1719.8 583.13) scale(1 1.035)" font-size="19.3" font-weight="bold" text-anchor="end" fill="#000" stroke="#000" stroke-width="0.5">5</text>
<line x1="1721.3" y1="652.1" x2="1728.9" y2="652.1" stroke="#000" stroke-width="2.3" stroke-linecap="butt"/>
<text transform="translate(1719.8 659.3) scale(1 1.035)" font-size="19.3" font-weight="bold" text-anchor="end" fill="#000" stroke="#000" stroke-width="0.5">0</text>
<line x1="1728.9" y1="422.45" x2="1728.9" y2="653.45" stroke="#000" stroke-width="2.7" stroke-linecap="butt"/>
<line x1="1721.3" y1="652.1" x2="1979.67" y2="652.1" stroke="#000" stroke-width="2.7" stroke-linecap="butt"/>
<line x1="1791.53" y1="652.1" x2="1791.53" y2="660" stroke="#000" stroke-width="2.3" stroke-linecap="butt"/>
<line x1="1917.07" y1="652.1" x2="1917.07" y2="660" stroke="#000" stroke-width="2.3" stroke-linecap="butt"/>
<line x1="1750.4" y1="593.76" x2="1831.98" y2="593.76" stroke="#000" stroke-width="1.9" stroke-linecap="round"/>
<line x1="1770.38" y1="550.14" x2="1812.67" y2="550.14" stroke="#000" stroke-width="1.9" stroke-linecap="round"/>
<line x1="1770.38" y1="637.05" x2="1812.67" y2="637.05" stroke="#000" stroke-width="1.9" stroke-linecap="round"/>
<line x1="1791.53" y1="550.14" x2="1791.53" y2="637.05" stroke="#000" stroke-width="1.9" stroke-linecap="butt"/>
<line x1="1875.94" y1="613.41" x2="1958.19" y2="613.41" stroke="#000" stroke-width="1.9" stroke-linecap="round"/>
<line x1="1895.92" y1="556.14" x2="1938.21" y2="556.14" stroke="#000" stroke-width="1.9" stroke-linecap="round"/>
<line x1="1917.07" y1="556.14" x2="1917.07" y2="652.1" stroke="#000" stroke-width="1.9" stroke-linecap="butt"/>
<rect x="1794.52" y="523.83" width="12" height="12" fill="#000"/>
<rect x="1776.53" y="536.15" width="12" height="12" fill="#000"/>
<rect x="1776.53" y="562.12" width="12" height="12" fill="#000"/>
<rect x="1794.52" y="565.45" width="12" height="12" fill="#000"/>
<rect x="1785.53" y="592.43" width="12" height="12" fill="#000"/>
<rect x="1776.53" y="612.07" width="12" height="12" fill="#000"/>
<rect x="1794.52" y="617.73" width="12" height="12" fill="#000"/>
<rect x="1776.53" y="641.04" width="12" height="12" fill="#000"/>
<rect x="1794.52" y="639.71" width="12" height="12" fill="#000"/>
<circle cx="1917.07" cy="499.86" r="6.1" fill="#000"/>
<circle cx="1917.07" cy="610.08" r="6.1" fill="#000"/>
<circle cx="1943.71" cy="636.39" r="6.1" fill="#000"/>
<circle cx="1889.76" cy="640.05" r="6.1" fill="#000"/>
<circle cx="1926.39" cy="644.05" r="6.1" fill="#000"/>
<circle cx="1908.07" cy="648.71" r="6.1" fill="#000"/>
<text transform="translate(188.98 740.04) scale(1 1.035)" font-size="19.4" font-weight="bold" text-anchor="middle" fill="#000" stroke="#000" stroke-width="0.5">CMC++ MOG 1-20</text>
<text transform="translate(18.31 897.2) rotate(-90) scale(1 1.035)" font-size="18.95" font-weight="bold" text-anchor="middle" fill="#000" stroke="#000" stroke-width="0.5">% CMC++</text>
<line x1="56.6" y1="784.35" x2="64.2" y2="784.35" stroke="#000" stroke-width="2.3" stroke-linecap="butt"/>
<text transform="translate(55.1 791.55) scale(1 1.035)" font-size="19.3" font-weight="bold" text-anchor="end" fill="#000" stroke="#000" stroke-width="0.5">0.8</text>
<line x1="56.6" y1="841.52" x2="64.2" y2="841.52" stroke="#000" stroke-width="2.3" stroke-linecap="butt"/>
<text transform="translate(55.1 848.73) scale(1 1.035)" font-size="19.3" font-weight="bold" text-anchor="end" fill="#000" stroke="#000" stroke-width="0.5">0.6</text>
<line x1="56.6" y1="898.7" x2="64.2" y2="898.7" stroke="#000" stroke-width="2.3" stroke-linecap="butt"/>
<text transform="translate(55.1 905.9) scale(1 1.035)" font-size="19.3" font-weight="bold" text-anchor="end" fill="#000" stroke="#000" stroke-width="0.5">0.4</text>
<line x1="56.6" y1="955.88" x2="64.2" y2="955.88" stroke="#000" stroke-width="2.3" stroke-linecap="butt"/>
<text transform="translate(55.1 963.08) scale(1 1.035)" font-size="19.3" font-weight="bold" text-anchor="end" fill="#000" stroke="#000" stroke-width="0.5">0.2</text>
<line x1="56.6" y1="1013.05" x2="64.2" y2="1013.05" stroke="#000" stroke-width="2.3" stroke-linecap="butt"/>
<text transform="translate(55.1 1020.25) scale(1 1.035)" font-size="19.3" font-weight="bold" text-anchor="end" fill="#000" stroke="#000" stroke-width="0.5">0.0</text>
<line x1="64.2" y1="783.2" x2="64.2" y2="1014.4" stroke="#000" stroke-width="2.7" stroke-linecap="butt"/>
<line x1="56.6" y1="1013.05" x2="314.68" y2="1013.05" stroke="#000" stroke-width="2.7" stroke-linecap="butt"/>
<line x1="126.54" y1="1013.05" x2="126.54" y2="1020.95" stroke="#000" stroke-width="2.3" stroke-linecap="butt"/>
<line x1="252.08" y1="1013.05" x2="252.08" y2="1020.95" stroke="#000" stroke-width="2.3" stroke-linecap="butt"/>
<line x1="86.08" y1="968.07" x2="167.66" y2="968.07" stroke="#000" stroke-width="1.9" stroke-linecap="round"/>
<line x1="106.06" y1="912.8" x2="147.68" y2="912.8" stroke="#000" stroke-width="1.9" stroke-linecap="round"/>
<line x1="126.54" y1="912.8" x2="126.54" y2="1013.05" stroke="#000" stroke-width="1.9" stroke-linecap="butt"/>
<line x1="210.95" y1="996.71" x2="293.2" y2="996.71" stroke="#000" stroke-width="1.9" stroke-linecap="round"/>
<line x1="231.27" y1="972.73" x2="273.22" y2="972.73" stroke="#000" stroke-width="1.9" stroke-linecap="round"/>
<line x1="252.08" y1="972.73" x2="252.08" y2="1013.05" stroke="#000" stroke-width="1.9" stroke-linecap="butt"/>
<rect x="120.54" y="827.21" width="12" height="12" fill="#000"/>
<rect x="102.22" y="950.42" width="12" height="12" fill="#000"/>
<rect x="138.85" y="952.42" width="12" height="12" fill="#000"/>
<rect x="120.54" y="956.41" width="12" height="12" fill="#000"/>
<rect x="111.21" y="979.39" width="12" height="12" fill="#000"/>
<rect x="129.53" y="985.38" width="12" height="12" fill="#000"/>
<rect x="102.22" y="997.04" width="12" height="12" fill="#000"/>
<rect x="120.54" y="1007.03" width="12" height="12" fill="#000"/>
<rect x="138.85" y="1007.03" width="12" height="12" fill="#000"/>
<circle cx="252.08" cy="953.09" r="6.1" fill="#000"/>
<circle cx="252.08" cy="984.72" r="6.1" fill="#000"/>
<circle cx="279.72" cy="1005.37" r="6.1" fill="#000"/>
<circle cx="224.77" cy="1013.03" r="6.1" fill="#000"/>
<circle cx="243.09" cy="1013.03" r="6.1" fill="#000"/>
<circle cx="261.4" cy="1013.03" r="6.1" fill="#000"/>
<text transform="translate(126.34 1040.35) rotate(-45) scale(1 1.035)" font-size="19.3" font-weight="bold" text-anchor="end" fill="#000" stroke="#000" stroke-width="0.15">Relapse</text>
<text transform="translate(251.88 1040.35) rotate(-45) scale(1 1.035)" font-size="19.3" font-weight="bold" text-anchor="end" fill="#000" stroke="#000" stroke-width="0.15">Remission</text>
<text transform="translate(528.97 740.04) scale(1 1.035)" font-size="19.4" font-weight="bold" text-anchor="middle" fill="#000" stroke="#000" stroke-width="0.5">CMC++ MOG 35-55</text>
<text transform="translate(357.97 897.2) rotate(-90) scale(1 1.035)" font-size="18.95" font-weight="bold" text-anchor="middle" fill="#000" stroke="#000" stroke-width="0.5">% CMC++</text>
<line x1="396.6" y1="784.35" x2="404.2" y2="784.35" stroke="#000" stroke-width="2.3" stroke-linecap="butt"/>
<text transform="translate(395.1 791.55) scale(1 1.035)" font-size="19.3" font-weight="bold" text-anchor="end" fill="#000" stroke="#000" stroke-width="0.5">1.0</text>
<line x1="396.6" y1="898.7" x2="404.2" y2="898.7" stroke="#000" stroke-width="2.3" stroke-linecap="butt"/>
<text transform="translate(395.1 905.9) scale(1 1.035)" font-size="19.3" font-weight="bold" text-anchor="end" fill="#000" stroke="#000" stroke-width="0.5">0.5</text>
<line x1="396.6" y1="1013.05" x2="404.2" y2="1013.05" stroke="#000" stroke-width="2.3" stroke-linecap="butt"/>
<text transform="translate(395.1 1020.25) scale(1 1.035)" font-size="19.3" font-weight="bold" text-anchor="end" fill="#000" stroke="#000" stroke-width="0.5">0.0</text>
<line x1="404.2" y1="783.2" x2="404.2" y2="1014.4" stroke="#000" stroke-width="2.7" stroke-linecap="butt"/>
<line x1="396.6" y1="1013.05" x2="654.34" y2="1013.05" stroke="#000" stroke-width="2.7" stroke-linecap="butt"/>
<line x1="466.86" y1="1013.05" x2="466.86" y2="1020.95" stroke="#000" stroke-width="2.3" stroke-linecap="butt"/>
<line x1="591.74" y1="1013.05" x2="591.74" y2="1020.95" stroke="#000" stroke-width="2.3" stroke-linecap="butt"/>
<line x1="425.74" y1="965.08" x2="507.99" y2="965.08" stroke="#000" stroke-width="1.9" stroke-linecap="round"/>
<line x1="446.05" y1="882.49" x2="487.67" y2="882.49" stroke="#000" stroke-width="1.9" stroke-linecap="round"/>
<line x1="466.86" y1="882.49" x2="466.86" y2="1013.05" stroke="#000" stroke-width="1.9" stroke-linecap="butt"/>
<line x1="550.61" y1="975.4" x2="632.86" y2="975.4" stroke="#000" stroke-width="1.9" stroke-linecap="round"/>
<line x1="570.92" y1="902.47" x2="612.88" y2="902.47" stroke="#000" stroke-width="1.9" stroke-linecap="round"/>
<line x1="591.74" y1="902.47" x2="591.74" y2="1013.05" stroke="#000" stroke-width="1.9" stroke-linecap="butt"/>
<rect x="460.86" y="801.57" width="12" height="12" fill="#000"/>
<rect x="460.86" y="829.21" width="12" height="12" fill="#000"/>
<rect x="460.86" y="984.72" width="12" height="12" fill="#000"/>
<rect x="425.9" y="998.04" width="12" height="12" fill="#000"/>
<rect x="495.83" y="996.37" width="12" height="12" fill="#000"/>
<rect x="481.84" y="1000.37" width="12" height="12" fill="#000"/>
<rect x="440.22" y="1007.03" width="12" height="12" fill="#000"/>
<rect x="454.53" y="1007.03" width="12" height="12" fill="#000"/>
<rect x="467.19" y="1007.03" width="12" height="12" fill="#000"/>
<circle cx="591.74" cy="827.88" r="6.1" fill="#000"/>
<circle cx="591.74" cy="987.72" r="6.1" fill="#000"/>
<circle cx="564.43" cy="1006.37" r="6.1" fill="#000"/>
<circle cx="619.37" cy="1004.37" r="6.1" fill="#000"/>
<circle cx="582.74" cy="1013.03" r="6.1" fill="#000"/>
<circle cx="601.06" cy="1013.03" r="6.1" fill="#000"/>
<text transform="translate(466.66 1040.35) rotate(-45) scale(1 1.035)" font-size="19.3" font-weight="bold" text-anchor="end" fill="#000" stroke="#000" stroke-width="0.15">Relapse</text>
<text transform="translate(591.54 1040.35) rotate(-45) scale(1 1.035)" font-size="19.3" font-weight="bold" text-anchor="end" fill="#000" stroke="#000" stroke-width="0.15">Remission</text>
<text transform="translate(870.62 740.04) scale(1 1.035)" font-size="19.4" font-weight="bold" text-anchor="middle" fill="#000" stroke="#000" stroke-width="0.5">CMC++ MOG 119-130</text>
<text transform="translate(687.31 897.2) rotate(-90) scale(1 1.035)" font-size="18.95" font-weight="bold" text-anchor="middle" fill="#000" stroke="#000" stroke-width="0.5">% CMC++</text>
<line x1="738.7" y1="784.35" x2="746.3" y2="784.35" stroke="#000" stroke-width="2.3" stroke-linecap="butt"/>
<text transform="translate(737.2 791.55) scale(1 1.035)" font-size="19.3" font-weight="bold" text-anchor="end" fill="#000" stroke="#000" stroke-width="0.5">0.20</text>
<line x1="738.7" y1="841.52" x2="746.3" y2="841.52" stroke="#000" stroke-width="2.3" stroke-linecap="butt"/>
<text transform="translate(737.2 848.73) scale(1 1.035)" font-size="19.3" font-weight="bold" text-anchor="end" fill="#000" stroke="#000" stroke-width="0.5">0.15</text>
<line x1="738.7" y1="898.7" x2="746.3" y2="898.7" stroke="#000" stroke-width="2.3" stroke-linecap="butt"/>
<text transform="translate(737.2 905.9) scale(1 1.035)" font-size="19.3" font-weight="bold" text-anchor="end" fill="#000" stroke="#000" stroke-width="0.5">0.10</text>
<line x1="738.7" y1="955.88" x2="746.3" y2="955.88" stroke="#000" stroke-width="2.3" stroke-linecap="butt"/>
<text transform="translate(737.2 963.08) scale(1 1.035)" font-size="19.3" font-weight="bold" text-anchor="end" fill="#000" stroke="#000" stroke-width="0.5">0.05</text>
<line x1="738.7" y1="1013.05" x2="746.3" y2="1013.05" stroke="#000" stroke-width="2.3" stroke-linecap="butt"/>
<text transform="translate(737.2 1020.25) scale(1 1.035)" font-size="19.3" font-weight="bold" text-anchor="end" fill="#000" stroke="#000" stroke-width="0.5">0.00</text>
<line x1="746.3" y1="783.2" x2="746.3" y2="1014.4" stroke="#000" stroke-width="2.7" stroke-linecap="butt"/>
<line x1="738.7" y1="1013.05" x2="996.33" y2="1013.05" stroke="#000" stroke-width="2.7" stroke-linecap="butt"/>
<line x1="808.85" y1="1013.05" x2="808.85" y2="1020.95" stroke="#000" stroke-width="2.3" stroke-linecap="butt"/>
<line x1="934.06" y1="1013.05" x2="934.06" y2="1020.95" stroke="#000" stroke-width="2.3" stroke-linecap="butt"/>
<line x1="767.73" y1="944.43" x2="849.97" y2="944.43" stroke="#000" stroke-width="1.9" stroke-linecap="round"/>
<line x1="788.7" y1="861.85" x2="829.99" y2="861.85" stroke="#000" stroke-width="1.9" stroke-linecap="round"/>
<line x1="808.85" y1="861.85" x2="808.85" y2="1013.05" stroke="#000" stroke-width="1.9" stroke-linecap="butt"/>
<line x1="892.93" y1="979.06" x2="975.18" y2="979.06" stroke="#000" stroke-width="1.9" stroke-linecap="round"/>
<line x1="913.58" y1="934.77" x2="955.2" y2="934.77" stroke="#000" stroke-width="1.9" stroke-linecap="round"/>
<line x1="934.06" y1="934.77" x2="934.06" y2="1013.05" stroke="#000" stroke-width="1.9" stroke-linecap="butt"/>
<rect x="802.85" y="812.22" width="12" height="12" fill="#000"/>
<rect x="812.17" y="835.87" width="12" height="12" fill="#000"/>
<rect x="793.86" y="847.19" width="12" height="12" fill="#000"/>
<rect x="793.86" y="960.41" width="12" height="12" fill="#000"/>
<rect x="812.17" y="966.4" width="12" height="12" fill="#000"/>
<rect x="775.54" y="1007.03" width="12" height="12" fill="#000"/>
<rect x="793.86" y="1007.03" width="12" height="12" fill="#000"/>
<rect x="812.17" y="1007.03" width="12" height="12" fill="#000"/>
<rect x="830.49" y="1007.03" width="12" height="12" fill="#000"/>
<circle cx="934.06" cy="907.8" r="6.1" fill="#000"/>
<circle cx="934.06" cy="942.1" r="6.1" fill="#000"/>
<circle cx="934.06" cy="987.72" r="6.1" fill="#000"/>
<circle cx="915.74" cy="1013.03" r="6.1" fill="#000"/>
<circle cx="934.06" cy="1013.03" r="6.1" fill="#000"/>
<circle cx="952.37" cy="1013.03" r="6.1" fill="#000"/>
<text transform="translate(808.65 1040.35) rotate(-45) scale(1 1.035)" font-size="19.3" font-weight="bold" text-anchor="end" fill="#000" stroke="#000" stroke-width="0.15">Relapse</text>
<text transform="translate(933.86 1040.35) rotate(-45) scale(1 1.035)" font-size="19.3" font-weight="bold" text-anchor="end" fill="#000" stroke="#000" stroke-width="0.15">Remission</text>
<text transform="translate(1202.45 740.04) scale(1 1.035)" font-size="19.4" font-weight="bold" text-anchor="middle" fill="#000" stroke="#000" stroke-width="0.5">CMC++ MOG 181-195</text>
<text transform="translate(1029.63 897.2) rotate(-90) scale(1 1.035)" font-size="18.95" font-weight="bold" text-anchor="middle" fill="#000" stroke="#000" stroke-width="0.5">% CMC++</text>
<line x1="1070" y1="784.35" x2="1077.6" y2="784.35" stroke="#000" stroke-width="2.3" stroke-linecap="butt"/>
<text transform="translate(1068.5 791.55) scale(1 1.035)" font-size="19.3" font-weight="bold" text-anchor="end" fill="#000" stroke="#000" stroke-width="0.5">0.3</text>
<line x1="1070" y1="860.58" x2="1077.6" y2="860.58" stroke="#000" stroke-width="2.3" stroke-linecap="butt"/>
<text transform="translate(1068.5 867.78) scale(1 1.035)" font-size="19.3" font-weight="bold" text-anchor="end" fill="#000" stroke="#000" stroke-width="0.5">0.2</text>
<line x1="1070" y1="936.82" x2="1077.6" y2="936.82" stroke="#000" stroke-width="2.3" stroke-linecap="butt"/>
<text transform="translate(1068.5 944.02) scale(1 1.035)" font-size="19.3" font-weight="bold" text-anchor="end" fill="#000" stroke="#000" stroke-width="0.5">0.1</text>
<line x1="1070" y1="1013.05" x2="1077.6" y2="1013.05" stroke="#000" stroke-width="2.3" stroke-linecap="butt"/>
<text transform="translate(1068.5 1020.25) scale(1 1.035)" font-size="19.3" font-weight="bold" text-anchor="end" fill="#000" stroke="#000" stroke-width="0.5">0.0</text>
<line x1="1077.6" y1="783.2" x2="1077.6" y2="1014.4" stroke="#000" stroke-width="2.7" stroke-linecap="butt"/>
<line x1="1070" y1="1013.05" x2="1328.66" y2="1013.05" stroke="#000" stroke-width="2.7" stroke-linecap="butt"/>
<line x1="1139.52" y1="1013.05" x2="1139.52" y2="1020.95" stroke="#000" stroke-width="2.3" stroke-linecap="butt"/>
<line x1="1265.06" y1="1013.05" x2="1265.06" y2="1020.95" stroke="#000" stroke-width="2.3" stroke-linecap="butt"/>
<line x1="1099.06" y1="969.74" x2="1180.64" y2="969.74" stroke="#000" stroke-width="1.9" stroke-linecap="round"/>
<line x1="1119.37" y1="909.8" x2="1160.66" y2="909.8" stroke="#000" stroke-width="1.9" stroke-linecap="round"/>
<line x1="1139.52" y1="909.8" x2="1139.52" y2="1013.05" stroke="#000" stroke-width="1.9" stroke-linecap="butt"/>
<line x1="1223.93" y1="982.39" x2="1305.51" y2="982.39" stroke="#000" stroke-width="1.9" stroke-linecap="round"/>
<line x1="1243.91" y1="907.8" x2="1285.53" y2="907.8" stroke="#000" stroke-width="1.9" stroke-linecap="round"/>
<line x1="1265.06" y1="907.8" x2="1265.06" y2="1013.05" stroke="#000" stroke-width="1.9" stroke-linecap="butt"/>
<rect x="1133.52" y="869.5" width="12" height="12" fill="#000"/>
<rect x="1124.52" y="892.81" width="12" height="12" fill="#000"/>
<rect x="1142.84" y="892.81" width="12" height="12" fill="#000"/>
<rect x="1133.52" y="984.38" width="12" height="12" fill="#000"/>
<rect x="1101.21" y="1007.03" width="12" height="12" fill="#000"/>
<rect x="1117.53" y="1007.03" width="12" height="12" fill="#000"/>
<rect x="1133.52" y="1007.03" width="12" height="12" fill="#000"/>
<rect x="1150.17" y="1007.03" width="12" height="12" fill="#000"/>
<rect x="1166.82" y="1007.03" width="12" height="12" fill="#000"/>
<circle cx="1265.06" cy="829.88" r="6.1" fill="#000"/>
<circle cx="1232.09" cy="1013.03" r="6.1" fill="#000"/>
<circle cx="1248.41" cy="1013.03" r="6.1" fill="#000"/>
<circle cx="1265.06" cy="1013.03" r="6.1" fill="#000"/>
<circle cx="1281.04" cy="1013.03" r="6.1" fill="#000"/>
<circle cx="1297.36" cy="1013.03" r="6.1" fill="#000"/>
<text transform="translate(1139.32 1040.35) rotate(-45) scale(1 1.035)" font-size="19.3" font-weight="bold" text-anchor="end" fill="#000" stroke="#000" stroke-width="0.15">Relapse</text>
<text transform="translate(1264.86 1040.35) rotate(-45) scale(1 1.035)" font-size="19.3" font-weight="bold" text-anchor="end" fill="#000" stroke="#000" stroke-width="0.15">Remission</text>
<text transform="translate(1529.29 740.04) scale(1 1.035)" font-size="19.4" font-weight="bold" text-anchor="middle" fill="#000" stroke="#000" stroke-width="0.5">CMC++ MOG 186-200</text>
<text transform="translate(1357.96 897.2) rotate(-90) scale(1 1.035)" font-size="18.95" font-weight="bold" text-anchor="middle" fill="#000" stroke="#000" stroke-width="0.5">% CMC++</text>
<line x1="1397.1" y1="784.35" x2="1404.7" y2="784.35" stroke="#000" stroke-width="2.3" stroke-linecap="butt"/>
<text transform="translate(1395.6 791.55) scale(1 1.035)" font-size="19.3" font-weight="bold" text-anchor="end" fill="#000" stroke="#000" stroke-width="0.5">0.4</text>
<line x1="1397.1" y1="841.52" x2="1404.7" y2="841.52" stroke="#000" stroke-width="2.3" stroke-linecap="butt"/>
<text transform="translate(1395.6 848.73) scale(1 1.035)" font-size="19.3" font-weight="bold" text-anchor="end" fill="#000" stroke="#000" stroke-width="0.5">0.3</text>
<line x1="1397.1" y1="898.7" x2="1404.7" y2="898.7" stroke="#000" stroke-width="2.3" stroke-linecap="butt"/>
<text transform="translate(1395.6 905.9) scale(1 1.035)" font-size="19.3" font-weight="bold" text-anchor="end" fill="#000" stroke="#000" stroke-width="0.5">0.2</text>
<line x1="1397.1" y1="955.88" x2="1404.7" y2="955.88" stroke="#000" stroke-width="2.3" stroke-linecap="butt"/>
<text transform="translate(1395.6 963.08) scale(1 1.035)" font-size="19.3" font-weight="bold" text-anchor="end" fill="#000" stroke="#000" stroke-width="0.5">0.1</text>
<line x1="1397.1" y1="1013.05" x2="1404.7" y2="1013.05" stroke="#000" stroke-width="2.3" stroke-linecap="butt"/>
<text transform="translate(1395.6 1020.25) scale(1 1.035)" font-size="19.3" font-weight="bold" text-anchor="end" fill="#000" stroke="#000" stroke-width="0.5">0.0</text>
<line x1="1404.7" y1="783.2" x2="1404.7" y2="1014.4" stroke="#000" stroke-width="2.7" stroke-linecap="butt"/>
<line x1="1397.1" y1="1013.05" x2="1655" y2="1013.05" stroke="#000" stroke-width="2.7" stroke-linecap="butt"/>
<line x1="1466.85" y1="1013.05" x2="1466.85" y2="1020.95" stroke="#000" stroke-width="2.3" stroke-linecap="butt"/>
<line x1="1592.06" y1="1013.05" x2="1592.06" y2="1020.95" stroke="#000" stroke-width="2.3" stroke-linecap="butt"/>
<line x1="1426.4" y1="967.74" x2="1507.98" y2="967.74" stroke="#000" stroke-width="1.9" stroke-linecap="round"/>
<line x1="1446.37" y1="894.15" x2="1488" y2="894.15" stroke="#000" stroke-width="1.9" stroke-linecap="round"/>
<line x1="1466.85" y1="894.15" x2="1466.85" y2="1013.05" stroke="#000" stroke-width="1.9" stroke-linecap="butt"/>
<line x1="1551.6" y1="1001.04" x2="1633.19" y2="1001.04" stroke="#000" stroke-width="1.9" stroke-linecap="round"/>
<line x1="1571.58" y1="973.4" x2="1613.21" y2="973.4" stroke="#000" stroke-width="1.9" stroke-linecap="round"/>
<line x1="1592.06" y1="973.4" x2="1592.06" y2="1013.05" stroke="#000" stroke-width="1.9" stroke-linecap="butt"/>
<rect x="1460.85" y="789.91" width="12" height="12" fill="#000"/>
<rect x="1460.85" y="910.46" width="12" height="12" fill="#000"/>
<rect x="1460.85" y="944.09" width="12" height="12" fill="#000"/>
<rect x="1460.85" y="981.05" width="12" height="12" fill="#000"/>
<rect x="1428.22" y="1007.03" width="12" height="12" fill="#000"/>
<rect x="1444.54" y="1007.03" width="12" height="12" fill="#000"/>
<rect x="1460.85" y="1007.03" width="12" height="12" fill="#000"/>
<rect x="1477.17" y="1007.03" width="12" height="12" fill="#000"/>
<rect x="1493.49" y="1007.03" width="12" height="12" fill="#000"/>
<circle cx="1592.06" cy="944.43" r="6.1" fill="#000"/>
<circle cx="1559.43" cy="1013.03" r="6.1" fill="#000"/>
<circle cx="1575.74" cy="1013.03" r="6.1" fill="#000"/>
<circle cx="1592.06" cy="1013.03" r="6.1" fill="#000"/>
<circle cx="1608.38" cy="1013.03" r="6.1" fill="#000"/>
<circle cx="1624.36" cy="1013.03" r="6.1" fill="#000"/>
<text transform="translate(1466.65 1040.35) rotate(-45) scale(1 1.035)" font-size="19.3" font-weight="bold" text-anchor="end" fill="#000" stroke="#000" stroke-width="0.15">Relapse</text>
<text transform="translate(1591.86 1040.35) rotate(-45) scale(1 1.035)" font-size="19.3" font-weight="bold" text-anchor="end" fill="#000" stroke="#000" stroke-width="0.15">Remission</text>
<text transform="translate(1853.8 740.04) scale(1 1.035)" font-size="19.4" font-weight="bold" text-anchor="middle" fill="#000" stroke="#000" stroke-width="0.5">CMC++ Myelin peptide</text>
<text transform="translate(1681.64 897.2) rotate(-90) scale(1 1.035)" font-size="18.95" font-weight="bold" text-anchor="middle" fill="#000" stroke="#000" stroke-width="0.5">% CMC++</text>
<line x1="1721.3" y1="784.35" x2="1728.9" y2="784.35" stroke="#000" stroke-width="2.3" stroke-linecap="butt"/>
<text transform="translate(1719.8 791.55) scale(1 1.035)" font-size="19.3" font-weight="bold" text-anchor="end" fill="#000" stroke="#000" stroke-width="0.5">0.6</text>
<line x1="1721.3" y1="860.58" x2="1728.9" y2="860.58" stroke="#000" stroke-width="2.3" stroke-linecap="butt"/>
<text transform="translate(1719.8 867.78) scale(1 1.035)" font-size="19.3" font-weight="bold" text-anchor="end" fill="#000" stroke="#000" stroke-width="0.5">0.4</text>
<line x1="1721.3" y1="936.82" x2="1728.9" y2="936.82" stroke="#000" stroke-width="2.3" stroke-linecap="butt"/>
<text transform="translate(1719.8 944.02) scale(1 1.035)" font-size="19.3" font-weight="bold" text-anchor="end" fill="#000" stroke="#000" stroke-width="0.5">0.2</text>
<line x1="1721.3" y1="1013.05" x2="1728.9" y2="1013.05" stroke="#000" stroke-width="2.3" stroke-linecap="butt"/>
<text transform="translate(1719.8 1020.25) scale(1 1.035)" font-size="19.3" font-weight="bold" text-anchor="end" fill="#000" stroke="#000" stroke-width="0.5">0.0</text>
<line x1="1728.9" y1="783.2" x2="1728.9" y2="1014.4" stroke="#000" stroke-width="2.7" stroke-linecap="butt"/>
<line x1="1721.3" y1="1013.05" x2="1979.67" y2="1013.05" stroke="#000" stroke-width="2.7" stroke-linecap="butt"/>
<line x1="1791.53" y1="1013.05" x2="1791.53" y2="1020.95" stroke="#000" stroke-width="2.3" stroke-linecap="butt"/>
<line x1="1917.07" y1="1013.05" x2="1917.07" y2="1020.95" stroke="#000" stroke-width="2.3" stroke-linecap="butt"/>
<line x1="1750.4" y1="960.75" x2="1831.98" y2="960.75" stroke="#000" stroke-width="1.9" stroke-linecap="round"/>
<line x1="1770.38" y1="909.13" x2="1812.67" y2="909.13" stroke="#000" stroke-width="1.9" stroke-linecap="round"/>
<line x1="1791.53" y1="909.13" x2="1791.53" y2="1013.05" stroke="#000" stroke-width="1.9" stroke-linecap="butt"/>
<line x1="1875.94" y1="974.07" x2="1958.19" y2="974.07" stroke="#000" stroke-width="1.9" stroke-linecap="round"/>
<line x1="1895.92" y1="897.81" x2="1938.21" y2="897.81" stroke="#000" stroke-width="1.9" stroke-linecap="round"/>
<line x1="1917.07" y1="897.81" x2="1917.07" y2="1013.05" stroke="#000" stroke-width="1.9" stroke-linecap="butt"/>
<rect x="1785.53" y="862.17" width="12" height="12" fill="#000"/>
<rect x="1785.53" y="896.14" width="12" height="12" fill="#000"/>
<rect x="1794.52" y="934.1" width="12" height="12" fill="#000"/>
<rect x="1776.53" y="942.09" width="12" height="12" fill="#000"/>
<rect x="1776.53" y="961.07" width="12" height="12" fill="#000"/>
<rect x="1794.52" y="978.06" width="12" height="12" fill="#000"/>
<rect x="1767.21" y="1007.03" width="12" height="12" fill="#000"/>
<rect x="1785.53" y="1007.03" width="12" height="12" fill="#000"/>
<rect x="1803.84" y="1007.03" width="12" height="12" fill="#000"/>
<circle cx="1917.07" cy="822.55" r="6.1" fill="#000"/>
<circle cx="1917.07" cy="971.4" r="6.1" fill="#000"/>
<circle cx="1890.43" cy="1013.03" r="6.1" fill="#000"/>
<circle cx="1908.07" cy="1013.03" r="6.1" fill="#000"/>
<circle cx="1926.39" cy="1013.03" r="6.1" fill="#000"/>
<circle cx="1944.04" cy="1013.03" r="6.1" fill="#000"/>
<text transform="translate(1791.33 1040.35) rotate(-45) scale(1 1.035)" font-size="19.3" font-weight="bold" text-anchor="end" fill="#000" stroke="#000" stroke-width="0.15">Relapse</text>
<text transform="translate(1916.87 1040.35) rotate(-45) scale(1 1.035)" font-size="19.3" font-weight="bold" text-anchor="end" fill="#000" stroke="#000" stroke-width="0.15">Remission</text>
<text transform="translate(6.3 30.8) scale(1 1.035)" font-size="41" font-weight="bold" text-anchor="start" fill="#000" stroke="#000" stroke-width="0.3">a</text>
<text transform="translate(15.3 373.8) scale(1 1.035)" font-size="41" font-weight="bold" text-anchor="start" fill="#000" stroke="#000" stroke-width="0.3">b</text>
<text transform="translate(18 738.8) scale(1 1.035)" font-size="41" font-weight="bold" text-anchor="start" fill="#000" stroke="#000" stroke-width="0.3">c</text>
<text transform="translate(15.2 1196.5) scale(1 1.035)" font-size="41" font-weight="bold" text-anchor="start" fill="#000" stroke="#000" stroke-width="0.3">d</text>
<text transform="translate(260.4 1161.3) scale(1 1.035)" font-size="21" font-weight="bold" text-anchor="middle" fill="#000" stroke="#000" stroke-width="0.5">CMC</text>
<text transform="translate(70 1326.8) rotate(-90) scale(1 1.035)" font-size="21" font-weight="bold" text-anchor="middle" fill="#000" stroke="#000" stroke-width="0.5">% Peptide</text>
<line x1="112.9" y1="1202.8" x2="122.4" y2="1202.8" stroke="#000" stroke-width="2.9" stroke-linecap="butt"/>
<text transform="translate(112.5 1210.9) scale(1 1.035)" font-size="21.5" font-weight="bold" text-anchor="end" fill="#000" stroke="#000" stroke-width="0.5">15</text>
<line x1="112.9" y1="1287" x2="122.4" y2="1287" stroke="#000" stroke-width="2.9" stroke-linecap="butt"/>
<text transform="translate(112.5 1295.1) scale(1 1.035)" font-size="21.5" font-weight="bold" text-anchor="end" fill="#000" stroke="#000" stroke-width="0.5">10</text>
<line x1="112.9" y1="1371.2" x2="122.4" y2="1371.2" stroke="#000" stroke-width="2.9" stroke-linecap="butt"/>
<text transform="translate(112.5 1379.3) scale(1 1.035)" font-size="21.5" font-weight="bold" text-anchor="end" fill="#000" stroke="#000" stroke-width="0.5">5</text>
<line x1="112.9" y1="1455.4" x2="122.4" y2="1455.4" stroke="#000" stroke-width="2.9" stroke-linecap="butt"/>
<text transform="translate(112.5 1463.5) scale(1 1.035)" font-size="21.5" font-weight="bold" text-anchor="end" fill="#000" stroke="#000" stroke-width="0.5">0</text>
<line x1="122.4" y1="1201.35" x2="122.4" y2="1457.05" stroke="#000" stroke-width="3.3" stroke-linecap="butt"/>
<line x1="112.9" y1="1455.4" x2="397.6" y2="1455.4" stroke="#000" stroke-width="3.3" stroke-linecap="butt"/>
<line x1="156.8" y1="1455.4" x2="156.8" y2="1464.4" stroke="#000" stroke-width="2.9" stroke-linecap="butt"/>
<line x1="225.6" y1="1455.4" x2="225.6" y2="1464.4" stroke="#000" stroke-width="2.9" stroke-linecap="butt"/>
<line x1="294.9" y1="1455.4" x2="294.9" y2="1464.4" stroke="#000" stroke-width="2.9" stroke-linecap="butt"/>
<line x1="364" y1="1455.4" x2="364" y2="1464.4" stroke="#000" stroke-width="2.9" stroke-linecap="butt"/>
<polyline points="156.8,1320.1 225.6,1287.5 294.9,1319.3 364,1302" fill="none" stroke="#fffb00" stroke-width="3" stroke-linejoin="miter"/>
<rect x="150.2" y="1313.5" width="13.2" height="13.2" fill="#fffb00"/>
<rect x="219" y="1280.9" width="13.2" height="13.2" fill="#fffb00"/>
<rect x="288.3" y="1312.7" width="13.2" height="13.2" fill="#fffb00"/>
<rect x="357.4" y="1295.4" width="13.2" height="13.2" fill="#fffb00"/>
<polyline points="156.8,1333.5 225.6,1277 294.9,1285.4 364,1299.2" fill="none" stroke="#ff9300" stroke-width="3.4" stroke-linejoin="miter"/>
<rect x="150.2" y="1326.9" width="13.2" height="13.2" fill="#ff9300"/>
<rect x="219" y="1270.4" width="13.2" height="13.2" fill="#ff9300"/>
<rect x="288.3" y="1278.8" width="13.2" height="13.2" fill="#ff9300"/>
<rect x="357.4" y="1292.6" width="13.2" height="13.2" fill="#ff9300"/>
<polyline points="156.8,1307.3 225.6,1320.3 294.9,1326.7 364,1300.5" fill="none" stroke="#ff40ff" stroke-width="3.4" stroke-linejoin="miter"/>
<rect x="150.2" y="1300.7" width="13.2" height="13.2" fill="#ff40ff"/>
<rect x="219" y="1313.7" width="13.2" height="13.2" fill="#ff40ff"/>
<rect x="288.3" y="1320.1" width="13.2" height="13.2" fill="#ff40ff"/>
<rect x="357.4" y="1293.9" width="13.2" height="13.2" fill="#ff40ff"/>
<polyline points="156.8,1281.3 225.6,1226.3 294.9,1222.9 364,1281.5" fill="none" stroke="#00f900" stroke-width="3.4" stroke-linejoin="miter"/>
<rect x="150.2" y="1274.7" width="13.2" height="13.2" fill="#00f900"/>
<rect x="219" y="1219.7" width="13.2" height="13.2" fill="#00f900"/>
<rect x="288.3" y="1216.3" width="13.2" height="13.2" fill="#00f900"/>
<rect x="357.4" y="1274.9" width="13.2" height="13.2" fill="#00f900"/>
<polyline points="156.8,1294.3 225.6,1253.1 294.9,1273.3 364,1227.9" fill="none" stroke="#0433ff" stroke-width="3.4" stroke-linejoin="miter"/>
<rect x="150.2" y="1287.7" width="13.2" height="13.2" fill="#0433ff"/>
<rect x="219" y="1246.5" width="13.2" height="13.2" fill="#0433ff"/>
<rect x="288.3" y="1266.7" width="13.2" height="13.2" fill="#0433ff"/>
<rect x="357.4" y="1221.3" width="13.2" height="13.2" fill="#0433ff"/>
<polyline points="156.8,1309.3 225.6,1226.6 294.9,1253.1 364,1305.2" fill="none" stroke="#ff2600" stroke-width="1.9" stroke-linejoin="miter"/>
<rect x="150.2" y="1302.7" width="13.2" height="13.2" fill="#ff2600"/>
<rect x="219" y="1220" width="13.2" height="13.2" fill="#ff2600"/>
<rect x="288.3" y="1246.5" width="13.2" height="13.2" fill="#ff2600"/>
<rect x="357.4" y="1298.6" width="13.2" height="13.2" fill="#ff2600"/>
<text transform="translate(161.8 1478.7) rotate(-45) scale(1 1.035)" font-size="21" font-weight="bold" text-anchor="end" fill="#000" stroke="#000" stroke-width="0.15">Rm</text>
<text transform="translate(230.6 1478.7) rotate(-45) scale(1 1.035)" font-size="21" font-weight="bold" text-anchor="end" fill="#000" stroke="#000" stroke-width="0.15">PR</text>
<text transform="translate(299.9 1478.7) rotate(-45) scale(1 1.035)" font-size="21" font-weight="bold" text-anchor="end" fill="#000" stroke="#000" stroke-width="0.15">R</text>
<text transform="translate(369 1478.7) rotate(-45) scale(1 1.035)" font-size="21" font-weight="bold" text-anchor="end" fill="#000" stroke="#000" stroke-width="0.15">Rm/S</text>
<text transform="translate(724.5 1161.3) scale(1 1.035)" font-size="21" font-weight="bold" text-anchor="middle" fill="#000" stroke="#000" stroke-width="0.5">CMC-IL17</text>
<text transform="translate(537 1326.8) rotate(-90) scale(1 1.035)" font-size="21" font-weight="bold" text-anchor="middle" fill="#000" stroke="#000" stroke-width="0.5">% Peptide</text>
<line x1="578.1" y1="1202.9" x2="587.6" y2="1202.9" stroke="#000" stroke-width="2.9" stroke-linecap="butt"/>
<text transform="translate(577.7 1211) scale(1 1.035)" font-size="21.5" font-weight="bold" text-anchor="end" fill="#000" stroke="#000" stroke-width="0.5">0.8</text>
<line x1="578.1" y1="1266.08" x2="587.6" y2="1266.08" stroke="#000" stroke-width="2.9" stroke-linecap="butt"/>
<text transform="translate(577.7 1274.17) scale(1 1.035)" font-size="21.5" font-weight="bold" text-anchor="end" fill="#000" stroke="#000" stroke-width="0.5">0.6</text>
<line x1="578.1" y1="1329.25" x2="587.6" y2="1329.25" stroke="#000" stroke-width="2.9" stroke-linecap="butt"/>
<text transform="translate(577.7 1337.35) scale(1 1.035)" font-size="21.5" font-weight="bold" text-anchor="end" fill="#000" stroke="#000" stroke-width="0.5">0.4</text>
<line x1="578.1" y1="1392.42" x2="587.6" y2="1392.42" stroke="#000" stroke-width="2.9" stroke-linecap="butt"/>
<text transform="translate(577.7 1400.52) scale(1 1.035)" font-size="21.5" font-weight="bold" text-anchor="end" fill="#000" stroke="#000" stroke-width="0.5">0.2</text>
<line x1="578.1" y1="1455.6" x2="587.6" y2="1455.6" stroke="#000" stroke-width="2.9" stroke-linecap="butt"/>
<text transform="translate(577.7 1463.7) scale(1 1.035)" font-size="21.5" font-weight="bold" text-anchor="end" fill="#000" stroke="#000" stroke-width="0.5">0.0</text>
<line x1="587.6" y1="1201.45" x2="587.6" y2="1457.25" stroke="#000" stroke-width="3.3" stroke-linecap="butt"/>
<line x1="578.1" y1="1455.6" x2="862" y2="1455.6" stroke="#000" stroke-width="3.3" stroke-linecap="butt"/>
<line x1="621.4" y1="1455.6" x2="621.4" y2="1464.6" stroke="#000" stroke-width="2.9" stroke-linecap="butt"/>
<line x1="690.3" y1="1455.6" x2="690.3" y2="1464.6" stroke="#000" stroke-width="2.9" stroke-linecap="butt"/>
<line x1="759.4" y1="1455.6" x2="759.4" y2="1464.6" stroke="#000" stroke-width="2.9" stroke-linecap="butt"/>
<line x1="828.7" y1="1455.6" x2="828.7" y2="1464.6" stroke="#000" stroke-width="2.9" stroke-linecap="butt"/>
<rect x="614.8" y="1393.2" width="13.2" height="13.2" fill="#ff2600"/>
<rect x="683.7" y="1383.1" width="13.2" height="13.2" fill="#ff2600"/>
<rect x="752.8" y="1285.2" width="13.2" height="13.2" fill="#ff2600"/>
<rect x="822.1" y="1439.4" width="13.2" height="13.2" fill="#ff2600"/>
<rect x="614.8" y="1404.4" width="13.2" height="13.2" fill="#0433ff"/>
<rect x="683.7" y="1244" width="13.2" height="13.2" fill="#0433ff"/>
<rect x="752.8" y="1294.3" width="13.2" height="13.2" fill="#0433ff"/>
<rect x="822.1" y="1412.8" width="13.2" height="13.2" fill="#0433ff"/>
<rect x="614.8" y="1421.3" width="13.2" height="13.2" fill="#00f900"/>
<rect x="683.7" y="1335.7" width="13.2" height="13.2" fill="#00f900"/>
<rect x="752.8" y="1288.2" width="13.2" height="13.2" fill="#00f900"/>
<rect x="822.1" y="1423.1" width="13.2" height="13.2" fill="#00f900"/>
<rect x="614.8" y="1417.2" width="13.2" height="13.2" fill="#ff40ff"/>
<rect x="683.7" y="1325.7" width="13.2" height="13.2" fill="#ff40ff"/>
<rect x="752.8" y="1342.6" width="13.2" height="13.2" fill="#ff40ff"/>
<rect x="822.1" y="1386.7" width="13.2" height="13.2" fill="#ff40ff"/>
<rect x="614.8" y="1380.3" width="13.2" height="13.2" fill="#ff9300"/>
<rect x="683.7" y="1320.4" width="13.2" height="13.2" fill="#ff9300"/>
<rect x="752.8" y="1239.9" width="13.2" height="13.2" fill="#ff9300"/>
<rect x="822.1" y="1421.3" width="13.2" height="13.2" fill="#ff9300"/>
<rect x="614.8" y="1396.2" width="13.2" height="13.2" fill="#fffb00"/>
<rect x="683.7" y="1332.5" width="13.2" height="13.2" fill="#fffb00"/>
<rect x="752.8" y="1235" width="13.2" height="13.2" fill="#fffb00"/>
<rect x="822.1" y="1406" width="13.2" height="13.2" fill="#fffb00"/>
<polyline points="621.4,1399.8 690.3,1389.7 759.4,1291.8 828.7,1446" fill="none" stroke="#ff2600" stroke-width="1.9" stroke-linejoin="miter"/>
<polyline points="621.4,1411 690.3,1250.6 759.4,1300.9 828.7,1419.4" fill="none" stroke="#0433ff" stroke-width="3.4" stroke-linejoin="miter"/>
<polyline points="621.4,1427.9 690.3,1342.3 759.4,1294.8 828.7,1429.7" fill="none" stroke="#00f900" stroke-width="3.4" stroke-linejoin="miter"/>
<polyline points="621.4,1423.8 690.3,1332.3 759.4,1349.2 828.7,1393.3" fill="none" stroke="#ff40ff" stroke-width="3.4" stroke-linejoin="miter"/>
<polyline points="621.4,1386.9 690.3,1327 759.4,1246.5 828.7,1427.9" fill="none" stroke="#ff9300" stroke-width="3.4" stroke-linejoin="miter"/>
<polyline points="621.4,1402.8 690.3,1339.1 759.4,1241.6 828.7,1412.6" fill="none" stroke="#fffb00" stroke-width="3" stroke-linejoin="miter"/>
<text transform="translate(626.4 1478.9) rotate(-45) scale(1 1.035)" font-size="21" font-weight="bold" text-anchor="end" fill="#000" stroke="#000" stroke-width="0.15">Rm</text>
<text transform="translate(695.3 1478.9) rotate(-45) scale(1 1.035)" font-size="21" font-weight="bold" text-anchor="end" fill="#000" stroke="#000" stroke-width="0.15">PR</text>
<text transform="translate(764.4 1478.9) rotate(-45) scale(1 1.035)" font-size="21" font-weight="bold" text-anchor="end" fill="#000" stroke="#000" stroke-width="0.15">R</text>
<text transform="translate(833.7 1478.9) rotate(-45) scale(1 1.035)" font-size="21" font-weight="bold" text-anchor="end" fill="#000" stroke="#000" stroke-width="0.15">Rm/S</text>
<text transform="translate(1168 1161.3) scale(1 1.035)" font-size="21" font-weight="bold" text-anchor="middle" fill="#000" stroke="#000" stroke-width="0.5">CMC-IFNG</text>
<text transform="translate(978 1326.8) rotate(-90) scale(1 1.035)" font-size="21" font-weight="bold" text-anchor="middle" fill="#000" stroke="#000" stroke-width="0.5">% Peptide</text>
<line x1="1021" y1="1202.9" x2="1030.5" y2="1202.9" stroke="#000" stroke-width="2.9" stroke-linecap="butt"/>
<text transform="translate(1016.9 1211) scale(1 1.035)" font-size="21.5" font-weight="bold" text-anchor="end" fill="#000" stroke="#000" stroke-width="0.5">10</text>
<line x1="1021" y1="1253.44" x2="1030.5" y2="1253.44" stroke="#000" stroke-width="2.9" stroke-linecap="butt"/>
<text transform="translate(1016.9 1261.54) scale(1 1.035)" font-size="21.5" font-weight="bold" text-anchor="end" fill="#000" stroke="#000" stroke-width="0.5">8</text>
<line x1="1021" y1="1303.98" x2="1030.5" y2="1303.98" stroke="#000" stroke-width="2.9" stroke-linecap="butt"/>
<text transform="translate(1016.9 1312.08) scale(1 1.035)" font-size="21.5" font-weight="bold" text-anchor="end" fill="#000" stroke="#000" stroke-width="0.5">6</text>
<line x1="1021" y1="1354.52" x2="1030.5" y2="1354.52" stroke="#000" stroke-width="2.9" stroke-linecap="butt"/>
<text transform="translate(1016.9 1362.62) scale(1 1.035)" font-size="21.5" font-weight="bold" text-anchor="end" fill="#000" stroke="#000" stroke-width="0.5">4</text>
<line x1="1021" y1="1405.06" x2="1030.5" y2="1405.06" stroke="#000" stroke-width="2.9" stroke-linecap="butt"/>
<text transform="translate(1016.9 1413.16) scale(1 1.035)" font-size="21.5" font-weight="bold" text-anchor="end" fill="#000" stroke="#000" stroke-width="0.5">2</text>
<line x1="1021" y1="1455.6" x2="1030.5" y2="1455.6" stroke="#000" stroke-width="2.9" stroke-linecap="butt"/>
<text transform="translate(1016.9 1463.7) scale(1 1.035)" font-size="21.5" font-weight="bold" text-anchor="end" fill="#000" stroke="#000" stroke-width="0.5">0</text>
<line x1="1030.5" y1="1201.45" x2="1030.5" y2="1457.25" stroke="#000" stroke-width="3.3" stroke-linecap="butt"/>
<line x1="1021" y1="1455.6" x2="1305.3" y2="1455.6" stroke="#000" stroke-width="3.3" stroke-linecap="butt"/>
<line x1="1064.5" y1="1455.6" x2="1064.5" y2="1464.6" stroke="#000" stroke-width="2.9" stroke-linecap="butt"/>
<line x1="1133.2" y1="1455.6" x2="1133.2" y2="1464.6" stroke="#000" stroke-width="2.9" stroke-linecap="butt"/>
<line x1="1202.1" y1="1455.6" x2="1202.1" y2="1464.6" stroke="#000" stroke-width="2.9" stroke-linecap="butt"/>
<line x1="1271" y1="1455.6" x2="1271" y2="1464.6" stroke="#000" stroke-width="2.9" stroke-linecap="butt"/>
<polyline points="1064.5,1438 1133.2,1397 1202.1,1316.3 1271,1435.7" fill="none" stroke="#fffb00" stroke-width="3" stroke-linejoin="miter"/>
<rect x="1057.9" y="1431.4" width="13.2" height="13.2" fill="#fffb00"/>
<rect x="1126.6" y="1390.4" width="13.2" height="13.2" fill="#fffb00"/>
<rect x="1195.5" y="1309.7" width="13.2" height="13.2" fill="#fffb00"/>
<rect x="1264.4" y="1429.1" width="13.2" height="13.2" fill="#fffb00"/>
<polyline points="1064.5,1438 1133.2,1394.5 1202.1,1345.1 1271,1442" fill="none" stroke="#ff9300" stroke-width="3.4" stroke-linejoin="miter"/>
<rect x="1057.9" y="1431.4" width="13.2" height="13.2" fill="#ff9300"/>
<rect x="1126.6" y="1387.9" width="13.2" height="13.2" fill="#ff9300"/>
<rect x="1195.5" y="1338.5" width="13.2" height="13.2" fill="#ff9300"/>
<rect x="1264.4" y="1435.4" width="13.2" height="13.2" fill="#ff9300"/>
<polyline points="1064.5,1443 1133.2,1394.1 1202.1,1241.6 1271,1439.3" fill="none" stroke="#ff40ff" stroke-width="3.4" stroke-linejoin="miter"/>
<rect x="1057.9" y="1436.4" width="13.2" height="13.2" fill="#ff40ff"/>
<rect x="1126.6" y="1387.5" width="13.2" height="13.2" fill="#ff40ff"/>
<rect x="1195.5" y="1235" width="13.2" height="13.2" fill="#ff40ff"/>
<rect x="1264.4" y="1432.7" width="13.2" height="13.2" fill="#ff40ff"/>
<polyline points="1064.5,1441.2 1133.2,1406.9 1202.1,1298.6 1271,1445" fill="none" stroke="#00f900" stroke-width="3.4" stroke-linejoin="miter"/>
<rect x="1057.9" y="1434.6" width="13.2" height="13.2" fill="#00f900"/>
<rect x="1126.6" y="1400.3" width="13.2" height="13.2" fill="#00f900"/>
<rect x="1195.5" y="1292" width="13.2" height="13.2" fill="#00f900"/>
<rect x="1264.4" y="1438.4" width="13.2" height="13.2" fill="#00f900"/>
<polyline points="1064.5,1436.4 1133.2,1392.7 1202.1,1325.9 1271,1444.2" fill="none" stroke="#0433ff" stroke-width="3.4" stroke-linejoin="miter"/>
<rect x="1057.9" y="1429.8" width="13.2" height="13.2" fill="#0433ff"/>
<rect x="1126.6" y="1386.1" width="13.2" height="13.2" fill="#0433ff"/>
<rect x="1195.5" y="1319.3" width="13.2" height="13.2" fill="#0433ff"/>
<rect x="1264.4" y="1437.6" width="13.2" height="13.2" fill="#0433ff"/>
<polyline points="1064.5,1436.2 1133.2,1444.8 1202.1,1251 1271,1449" fill="none" stroke="#ff2600" stroke-width="1.9" stroke-linejoin="miter"/>
<rect x="1057.9" y="1429.6" width="13.2" height="13.2" fill="#ff2600"/>
<rect x="1126.6" y="1438.2" width="13.2" height="13.2" fill="#ff2600"/>
<rect x="1195.5" y="1244.4" width="13.2" height="13.2" fill="#ff2600"/>
<rect x="1264.4" y="1442.4" width="13.2" height="13.2" fill="#ff2600"/>
<text transform="translate(1069.5 1478.9) rotate(-45) scale(1 1.035)" font-size="21" font-weight="bold" text-anchor="end" fill="#000" stroke="#000" stroke-width="0.15">Rm</text>
<text transform="translate(1138.2 1478.9) rotate(-45) scale(1 1.035)" font-size="21" font-weight="bold" text-anchor="end" fill="#000" stroke="#000" stroke-width="0.15">PR</text>
<text transform="translate(1207.1 1478.9) rotate(-45) scale(1 1.035)" font-size="21" font-weight="bold" text-anchor="end" fill="#000" stroke="#000" stroke-width="0.15">R</text>
<text transform="translate(1276 1478.9) rotate(-45) scale(1 1.035)" font-size="21" font-weight="bold" text-anchor="end" fill="#000" stroke="#000" stroke-width="0.15">Rm/S</text>
<text transform="translate(1614.2 1155.1) scale(1 1.035)" font-size="21" font-weight="bold" text-anchor="middle" fill="#000" stroke="#000" stroke-width="0.5">CMC++</text>
<text transform="translate(1419 1326.8) rotate(-90) scale(1 1.035)" font-size="21" font-weight="bold" text-anchor="middle" fill="#000" stroke="#000" stroke-width="0.5">% Peptide</text>
<line x1="1478.5" y1="1203" x2="1488" y2="1203" stroke="#000" stroke-width="2.9" stroke-linecap="butt"/>
<text transform="translate(1474 1211.1) scale(1 1.035)" font-size="21.5" font-weight="bold" text-anchor="end" fill="#000" stroke="#000" stroke-width="0.5">0.20</text>
<line x1="1478.5" y1="1266.3" x2="1488" y2="1266.3" stroke="#000" stroke-width="2.9" stroke-linecap="butt"/>
<text transform="translate(1474 1274.4) scale(1 1.035)" font-size="21.5" font-weight="bold" text-anchor="end" fill="#000" stroke="#000" stroke-width="0.5">0.15</text>
<line x1="1478.5" y1="1329.6" x2="1488" y2="1329.6" stroke="#000" stroke-width="2.9" stroke-linecap="butt"/>
<text transform="translate(1474 1337.7) scale(1 1.035)" font-size="21.5" font-weight="bold" text-anchor="end" fill="#000" stroke="#000" stroke-width="0.5">0.10</text>
<line x1="1478.5" y1="1392.9" x2="1488" y2="1392.9" stroke="#000" stroke-width="2.9" stroke-linecap="butt"/>
<text transform="translate(1474 1401) scale(1 1.035)" font-size="21.5" font-weight="bold" text-anchor="end" fill="#000" stroke="#000" stroke-width="0.5">0.05</text>
<line x1="1478.5" y1="1456.2" x2="1488" y2="1456.2" stroke="#000" stroke-width="2.9" stroke-linecap="butt"/>
<text transform="translate(1474 1464.3) scale(1 1.035)" font-size="21.5" font-weight="bold" text-anchor="end" fill="#000" stroke="#000" stroke-width="0.5">0.00</text>
<line x1="1488" y1="1201.55" x2="1488" y2="1457.85" stroke="#000" stroke-width="3.3" stroke-linecap="butt"/>
<line x1="1478.5" y1="1456.2" x2="1739.7" y2="1456.2" stroke="#000" stroke-width="3.3" stroke-linecap="butt"/>
<line x1="1519.4" y1="1456.2" x2="1519.4" y2="1465.2" stroke="#000" stroke-width="2.9" stroke-linecap="butt"/>
<line x1="1582.4" y1="1456.2" x2="1582.4" y2="1465.2" stroke="#000" stroke-width="2.9" stroke-linecap="butt"/>
<line x1="1645.5" y1="1456.2" x2="1645.5" y2="1465.2" stroke="#000" stroke-width="2.9" stroke-linecap="butt"/>
<line x1="1708.7" y1="1456.2" x2="1708.7" y2="1465.2" stroke="#000" stroke-width="2.9" stroke-linecap="butt"/>
<polyline points="1519.4,1456.2 1582.4,1304.8 1645.5,1216.3 1708.7,1456.2" fill="none" stroke="#fffb00" stroke-width="2.4" stroke-linejoin="miter"/>
<rect x="1512.8" y="1449.6" width="13.2" height="13.2" fill="#fffb00"/>
<rect x="1575.8" y="1298.2" width="13.2" height="13.2" fill="#fffb00"/>
<rect x="1638.9" y="1209.7" width="13.2" height="13.2" fill="#fffb00"/>
<rect x="1702.1" y="1449.6" width="13.2" height="13.2" fill="#fffb00"/>
<polyline points="1519.4,1456.2 1582.4,1400.2 1645.5,1317.8 1708.7,1456.2" fill="none" stroke="#ff9300" stroke-width="3.4" stroke-linejoin="miter"/>
<rect x="1512.8" y="1449.6" width="13.2" height="13.2" fill="#ff9300"/>
<rect x="1575.8" y="1393.6" width="13.2" height="13.2" fill="#ff9300"/>
<rect x="1638.9" y="1311.2" width="13.2" height="13.2" fill="#ff9300"/>
<rect x="1702.1" y="1449.6" width="13.2" height="13.2" fill="#ff9300"/>
<polyline points="1519.4,1456.2 1582.4,1418.1 1645.5,1266.6 1708.7,1456.2" fill="none" stroke="#ff40ff" stroke-width="3.4" stroke-linejoin="miter"/>
<rect x="1512.8" y="1449.6" width="13.2" height="13.2" fill="#ff40ff"/>
<rect x="1575.8" y="1411.5" width="13.2" height="13.2" fill="#ff40ff"/>
<rect x="1638.9" y="1260" width="13.2" height="13.2" fill="#ff40ff"/>
<rect x="1702.1" y="1449.6" width="13.2" height="13.2" fill="#ff40ff"/>
<polyline points="1519.4,1428.8 1582.4,1411 1645.5,1266.6 1708.7,1456.2" fill="none" stroke="#00f900" stroke-width="3.4" stroke-linejoin="miter"/>
<rect x="1512.8" y="1422.2" width="13.2" height="13.2" fill="#00f900"/>
<rect x="1575.8" y="1404.4" width="13.2" height="13.2" fill="#00f900"/>
<rect x="1638.9" y="1260" width="13.2" height="13.2" fill="#00f900"/>
<rect x="1702.1" y="1449.6" width="13.2" height="13.2" fill="#00f900"/>
<polyline points="1519.4,1456.2 1582.4,1330.2 1645.5,1397.2 1708.7,1456.2" fill="none" stroke="#0433ff" stroke-width="3.4" stroke-linejoin="miter"/>
<rect x="1512.8" y="1449.6" width="13.2" height="13.2" fill="#0433ff"/>
<rect x="1575.8" y="1323.6" width="13.2" height="13.2" fill="#0433ff"/>
<rect x="1638.9" y="1390.6" width="13.2" height="13.2" fill="#0433ff"/>
<rect x="1702.1" y="1449.6" width="13.2" height="13.2" fill="#0433ff"/>
<polyline points="1519.4,1423.8 1582.4,1456.2 1645.5,1228.4 1708.7,1456.2" fill="none" stroke="#ff2600" stroke-width="1.9" stroke-linejoin="miter"/>
<rect x="1512.8" y="1417.2" width="13.2" height="13.2" fill="#ff2600"/>
<rect x="1575.8" y="1449.6" width="13.2" height="13.2" fill="#ff2600"/>
<rect x="1638.9" y="1221.8" width="13.2" height="13.2" fill="#ff2600"/>
<rect x="1702.1" y="1449.6" width="13.2" height="13.2" fill="#ff2600"/>
<text transform="translate(1524.4 1479.5) rotate(-45) scale(1 1.035)" font-size="21" font-weight="bold" text-anchor="end" fill="#000" stroke="#000" stroke-width="0.15">Rm</text>
<text transform="translate(1587.4 1479.5) rotate(-45) scale(1 1.035)" font-size="21" font-weight="bold" text-anchor="end" fill="#000" stroke="#000" stroke-width="0.15">PR</text>
<text transform="translate(1650.5 1479.5) rotate(-45) scale(1 1.035)" font-size="21" font-weight="bold" text-anchor="end" fill="#000" stroke="#000" stroke-width="0.15">R</text>
<text transform="translate(1713.7 1479.5) rotate(-45) scale(1 1.035)" font-size="21" font-weight="bold" text-anchor="end" fill="#000" stroke="#000" stroke-width="0.15">Rm/S</text>
<line x1="1790.5" y1="1218.3" x2="1814.5" y2="1218.3" stroke="#ff2600" stroke-width="1.9" stroke-linecap="round"/>
<rect x="1795.9" y="1211.7" width="13.2" height="13.2" fill="#ff2600"/>
<text transform="translate(1827.3 1224.6) scale(1 1)" font-size="18.3" font-weight="normal" text-anchor="start" fill="#000" stroke="#000" stroke-width="0.3">MOG 1-20</text>
<line x1="1790.5" y1="1249.4" x2="1814.5" y2="1249.4" stroke="#0433ff" stroke-width="3.4" stroke-linecap="round"/>
<rect x="1795.9" y="1242.8" width="13.2" height="13.2" fill="#0433ff"/>
<text transform="translate(1827.3 1255.7) scale(1 1)" font-size="18.3" font-weight="normal" text-anchor="start" fill="#000" stroke="#000" stroke-width="0.3">MOG 35-55</text>
<line x1="1790.5" y1="1280.2" x2="1814.5" y2="1280.2" stroke="#00f900" stroke-width="3.4" stroke-linecap="round"/>
<rect x="1795.9" y="1273.6" width="13.2" height="13.2" fill="#00f900"/>
<text transform="translate(1827.3 1286.5) scale(1 1)" font-size="18.3" font-weight="normal" text-anchor="start" fill="#000" stroke="#000" stroke-width="0.3">MOG 119-130</text>
<line x1="1790.5" y1="1311.6" x2="1814.5" y2="1311.6" stroke="#ff40ff" stroke-width="3.4" stroke-linecap="round"/>
<rect x="1795.9" y="1305" width="13.2" height="13.2" fill="#ff40ff"/>
<text transform="translate(1827.3 1317.9) scale(1 1)" font-size="18.3" font-weight="normal" text-anchor="start" fill="#000" stroke="#000" stroke-width="0.3">MOG 181-195</text>
<line x1="1790.5" y1="1342.7" x2="1814.5" y2="1342.7" stroke="#ff9300" stroke-width="3.4" stroke-linecap="round"/>
<rect x="1795.9" y="1336.1" width="13.2" height="13.2" fill="#ff9300"/>
<text transform="translate(1827.3 1349) scale(1 1)" font-size="18.3" font-weight="normal" text-anchor="start" fill="#000" stroke="#000" stroke-width="0.3">MOG 186-200</text>
<line x1="1790.5" y1="1373.5" x2="1814.5" y2="1373.5" stroke="#fffb00" stroke-width="3" stroke-linecap="round"/>
<rect x="1795.9" y="1366.9" width="13.2" height="13.2" fill="#fffb00"/>
<text transform="translate(1827.3 1379.8) scale(1 1)" font-size="18.3" font-weight="normal" text-anchor="start" fill="#000" stroke="#000" stroke-width="0.3">Myelin peptide</text>
</svg>
</body></html>
